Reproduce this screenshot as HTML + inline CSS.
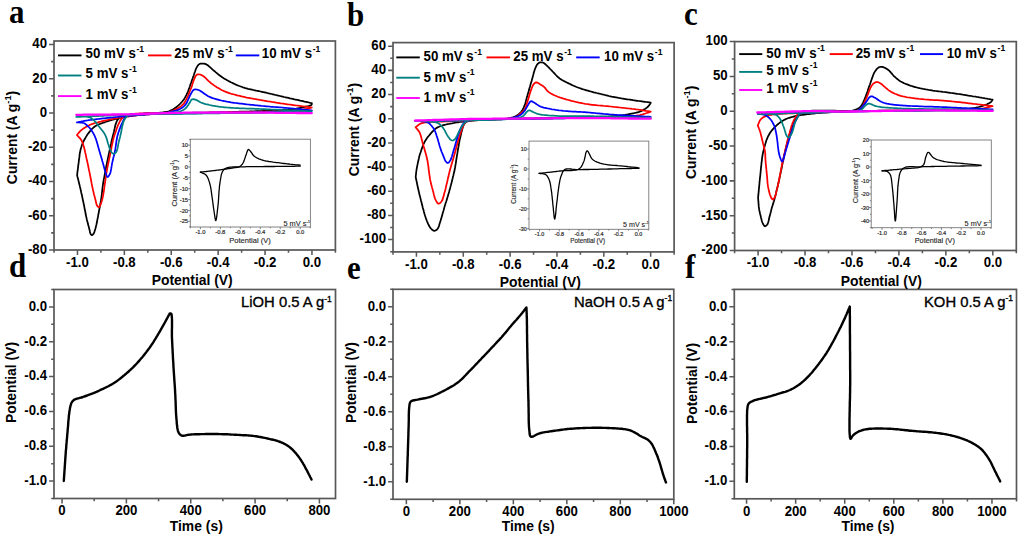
<!DOCTYPE html>
<html><head><meta charset="utf-8"><style>
html,body{margin:0;padding:0;background:#fff;width:1024px;height:538px;overflow:hidden}
svg{display:block}
text{font-family:"Liberation Sans",sans-serif;font-weight:bold;fill:#000}
.ser{font-family:"Liberation Serif",serif;font-weight:bold}
.reg{font-weight:normal}
</style></head><body>
<svg width="1024" height="538" viewBox="0 0 1024 538">
<rect x="54.00" y="41.00" width="281.40" height="209.00" fill="none" stroke="#585858" stroke-width="1.7"/>
<path d="M77.45 250.00v4.9M124.35 250.00v4.9M171.25 250.00v4.9M218.15 250.00v4.9M265.05 250.00v4.9M311.95 250.00v4.9M54.00 250.00v2.8M100.90 250.00v2.8M147.80 250.00v2.8M194.70 250.00v2.8M241.60 250.00v2.8M288.50 250.00v2.8M335.40 250.00v2.8M54.00 250.00h-4.9M54.00 215.75h-4.9M54.00 181.50h-4.9M54.00 147.25h-4.9M54.00 113.00h-4.9M54.00 78.74h-4.9M54.00 44.49h-4.9M54.00 232.87h-2.8M54.00 198.62h-2.8M54.00 164.37h-2.8M54.00 130.12h-2.8M54.00 95.87h-2.8M54.00 61.62h-2.8" stroke="#585858" stroke-width="1.53" fill="none"/>
<text transform="translate(77.45,266.80) scale(1,1.14)" text-anchor="middle" class="tk" font-size="13.2">-1.0</text>
<text transform="translate(124.35,266.80) scale(1,1.14)" text-anchor="middle" class="tk" font-size="13.2">-0.8</text>
<text transform="translate(171.25,266.80) scale(1,1.14)" text-anchor="middle" class="tk" font-size="13.2">-0.6</text>
<text transform="translate(218.15,266.80) scale(1,1.14)" text-anchor="middle" class="tk" font-size="13.2">-0.4</text>
<text transform="translate(265.05,266.80) scale(1,1.14)" text-anchor="middle" class="tk" font-size="13.2">-0.2</text>
<text transform="translate(311.95,266.80) scale(1,1.14)" text-anchor="middle" class="tk" font-size="13.2">0.0</text>
<text transform="translate(47.00,253.85) scale(1,1.14)" text-anchor="end" class="tk" font-size="13.2">-80</text>
<text transform="translate(47.00,219.60) scale(1,1.14)" text-anchor="end" class="tk" font-size="13.2">-60</text>
<text transform="translate(47.00,185.35) scale(1,1.14)" text-anchor="end" class="tk" font-size="13.2">-40</text>
<text transform="translate(47.00,151.10) scale(1,1.14)" text-anchor="end" class="tk" font-size="13.2">-20</text>
<text transform="translate(47.00,116.85) scale(1,1.14)" text-anchor="end" class="tk" font-size="13.2">0</text>
<text transform="translate(47.00,82.60) scale(1,1.14)" text-anchor="end" class="tk" font-size="13.2">20</text>
<text transform="translate(47.00,48.35) scale(1,1.14)" text-anchor="end" class="tk" font-size="13.2">40</text>
<rect x="393.00" y="42.60" width="281.10" height="209.30" fill="none" stroke="#585858" stroke-width="1.7"/>
<path d="M416.43 251.90v4.9M463.27 251.90v4.9M510.12 251.90v4.9M556.98 251.90v4.9M603.83 251.90v4.9M650.67 251.90v4.9M393.00 251.90v2.8M439.85 251.90v2.8M486.70 251.90v2.8M533.55 251.90v2.8M580.40 251.90v2.8M627.25 251.90v2.8M674.10 251.90v2.8M393.00 239.57h-4.9M393.00 215.40h-4.9M393.00 191.23h-4.9M393.00 167.06h-4.9M393.00 142.89h-4.9M393.00 118.72h-4.9M393.00 94.54h-4.9M393.00 70.37h-4.9M393.00 46.20h-4.9M393.00 251.66h-2.8M393.00 227.49h-2.8M393.00 203.32h-2.8M393.00 179.14h-2.8M393.00 154.97h-2.8M393.00 130.80h-2.8M393.00 106.63h-2.8M393.00 82.46h-2.8M393.00 58.29h-2.8" stroke="#585858" stroke-width="1.53" fill="none"/>
<text transform="translate(416.43,268.70) scale(1,1.14)" text-anchor="middle" class="tk" font-size="13.2">-1.0</text>
<text transform="translate(463.27,268.70) scale(1,1.14)" text-anchor="middle" class="tk" font-size="13.2">-0.8</text>
<text transform="translate(510.12,268.70) scale(1,1.14)" text-anchor="middle" class="tk" font-size="13.2">-0.6</text>
<text transform="translate(556.98,268.70) scale(1,1.14)" text-anchor="middle" class="tk" font-size="13.2">-0.4</text>
<text transform="translate(603.83,268.70) scale(1,1.14)" text-anchor="middle" class="tk" font-size="13.2">-0.2</text>
<text transform="translate(650.67,268.70) scale(1,1.14)" text-anchor="middle" class="tk" font-size="13.2">0.0</text>
<text transform="translate(386.00,243.42) scale(1,1.14)" text-anchor="end" class="tk" font-size="13.2">-100</text>
<text transform="translate(386.00,219.25) scale(1,1.14)" text-anchor="end" class="tk" font-size="13.2">-80</text>
<text transform="translate(386.00,195.08) scale(1,1.14)" text-anchor="end" class="tk" font-size="13.2">-60</text>
<text transform="translate(386.00,170.91) scale(1,1.14)" text-anchor="end" class="tk" font-size="13.2">-40</text>
<text transform="translate(386.00,146.74) scale(1,1.14)" text-anchor="end" class="tk" font-size="13.2">-20</text>
<text transform="translate(386.00,122.57) scale(1,1.14)" text-anchor="end" class="tk" font-size="13.2">0</text>
<text transform="translate(386.00,98.40) scale(1,1.14)" text-anchor="end" class="tk" font-size="13.2">20</text>
<text transform="translate(386.00,74.22) scale(1,1.14)" text-anchor="end" class="tk" font-size="13.2">40</text>
<text transform="translate(386.00,50.05) scale(1,1.14)" text-anchor="end" class="tk" font-size="13.2">60</text>
<rect x="734.60" y="41.60" width="281.70" height="208.90" fill="none" stroke="#585858" stroke-width="1.7"/>
<path d="M758.08 250.50v4.9M805.02 250.50v4.9M851.98 250.50v4.9M898.92 250.50v4.9M945.88 250.50v4.9M992.82 250.50v4.9M734.60 250.50v2.8M781.55 250.50v2.8M828.50 250.50v2.8M875.45 250.50v2.8M922.40 250.50v2.8M969.35 250.50v2.8M1016.30 250.50v2.8M734.60 250.50h-4.9M734.60 215.68h-4.9M734.60 180.87h-4.9M734.60 146.05h-4.9M734.60 111.23h-4.9M734.60 76.42h-4.9M734.60 41.60h-4.9M734.60 233.09h-2.8M734.60 198.28h-2.8M734.60 163.46h-2.8M734.60 128.64h-2.8M734.60 93.82h-2.8M734.60 59.01h-2.8" stroke="#585858" stroke-width="1.53" fill="none"/>
<text transform="translate(758.08,267.30) scale(1,1.14)" text-anchor="middle" class="tk" font-size="13.2">-1.0</text>
<text transform="translate(805.02,267.30) scale(1,1.14)" text-anchor="middle" class="tk" font-size="13.2">-0.8</text>
<text transform="translate(851.98,267.30) scale(1,1.14)" text-anchor="middle" class="tk" font-size="13.2">-0.6</text>
<text transform="translate(898.92,267.30) scale(1,1.14)" text-anchor="middle" class="tk" font-size="13.2">-0.4</text>
<text transform="translate(945.88,267.30) scale(1,1.14)" text-anchor="middle" class="tk" font-size="13.2">-0.2</text>
<text transform="translate(992.82,267.30) scale(1,1.14)" text-anchor="middle" class="tk" font-size="13.2">0.0</text>
<text transform="translate(727.60,254.35) scale(1,1.14)" text-anchor="end" class="tk" font-size="13.2">-200</text>
<text transform="translate(727.60,219.54) scale(1,1.14)" text-anchor="end" class="tk" font-size="13.2">-150</text>
<text transform="translate(727.60,184.72) scale(1,1.14)" text-anchor="end" class="tk" font-size="13.2">-100</text>
<text transform="translate(727.60,149.90) scale(1,1.14)" text-anchor="end" class="tk" font-size="13.2">-50</text>
<text transform="translate(727.60,115.09) scale(1,1.14)" text-anchor="end" class="tk" font-size="13.2">0</text>
<text transform="translate(727.60,80.27) scale(1,1.14)" text-anchor="end" class="tk" font-size="13.2">50</text>
<text transform="translate(727.60,45.45) scale(1,1.14)" text-anchor="end" class="tk" font-size="13.2">100</text>
<rect x="54.00" y="289.50" width="281.50" height="209.00" fill="none" stroke="#585858" stroke-width="1.7"/>
<path d="M62.04 498.50v4.9M126.39 498.50v4.9M190.73 498.50v4.9M255.07 498.50v4.9M319.41 498.50v4.9M94.21 498.50v2.8M158.56 498.50v2.8M222.90 498.50v2.8M287.24 498.50v2.8M54.00 481.08h-4.9M54.00 446.25h-4.9M54.00 411.42h-4.9M54.00 376.58h-4.9M54.00 341.75h-4.9M54.00 306.92h-4.9M54.00 498.50h-2.8M54.00 463.67h-2.8M54.00 428.83h-2.8M54.00 394.00h-2.8M54.00 359.17h-2.8M54.00 324.33h-2.8M54.00 289.50h-2.8" stroke="#585858" stroke-width="1.53" fill="none"/>
<text transform="translate(62.04,515.30) scale(1,1.14)" text-anchor="middle" class="tk" font-size="13.2">0</text>
<text transform="translate(126.39,515.30) scale(1,1.14)" text-anchor="middle" class="tk" font-size="13.2">200</text>
<text transform="translate(190.73,515.30) scale(1,1.14)" text-anchor="middle" class="tk" font-size="13.2">400</text>
<text transform="translate(255.07,515.30) scale(1,1.14)" text-anchor="middle" class="tk" font-size="13.2">600</text>
<text transform="translate(319.41,515.30) scale(1,1.14)" text-anchor="middle" class="tk" font-size="13.2">800</text>
<text transform="translate(47.00,484.94) scale(1,1.14)" text-anchor="end" class="tk" font-size="13.2">-1.0</text>
<text transform="translate(47.00,450.10) scale(1,1.14)" text-anchor="end" class="tk" font-size="13.2">-0.8</text>
<text transform="translate(47.00,415.27) scale(1,1.14)" text-anchor="end" class="tk" font-size="13.2">-0.6</text>
<text transform="translate(47.00,380.44) scale(1,1.14)" text-anchor="end" class="tk" font-size="13.2">-0.4</text>
<text transform="translate(47.00,345.60) scale(1,1.14)" text-anchor="end" class="tk" font-size="13.2">-0.2</text>
<text transform="translate(47.00,310.77) scale(1,1.14)" text-anchor="end" class="tk" font-size="13.2">0.0</text>
<rect x="393.00" y="289.30" width="280.80" height="210.00" fill="none" stroke="#585858" stroke-width="1.7"/>
<path d="M406.37 499.30v4.9M459.86 499.30v4.9M513.34 499.30v4.9M566.83 499.30v4.9M620.31 499.30v4.9M673.80 499.30v4.9M433.11 499.30v2.8M486.60 499.30v2.8M540.09 499.30v2.8M593.57 499.30v2.8M647.06 499.30v2.8M393.00 481.80h-4.9M393.00 446.80h-4.9M393.00 411.80h-4.9M393.00 376.80h-4.9M393.00 341.80h-4.9M393.00 306.80h-4.9M393.00 499.30h-2.8M393.00 464.30h-2.8M393.00 429.30h-2.8M393.00 394.30h-2.8M393.00 359.30h-2.8M393.00 324.30h-2.8M393.00 289.30h-2.8" stroke="#585858" stroke-width="1.53" fill="none"/>
<text transform="translate(406.37,516.10) scale(1,1.14)" text-anchor="middle" class="tk" font-size="13.2">0</text>
<text transform="translate(459.86,516.10) scale(1,1.14)" text-anchor="middle" class="tk" font-size="13.2">200</text>
<text transform="translate(513.34,516.10) scale(1,1.14)" text-anchor="middle" class="tk" font-size="13.2">400</text>
<text transform="translate(566.83,516.10) scale(1,1.14)" text-anchor="middle" class="tk" font-size="13.2">600</text>
<text transform="translate(620.31,516.10) scale(1,1.14)" text-anchor="middle" class="tk" font-size="13.2">800</text>
<text transform="translate(673.80,516.10) scale(1,1.14)" text-anchor="middle" class="tk" font-size="13.2">1000</text>
<text transform="translate(386.00,485.65) scale(1,1.14)" text-anchor="end" class="tk" font-size="13.2">-1.0</text>
<text transform="translate(386.00,450.65) scale(1,1.14)" text-anchor="end" class="tk" font-size="13.2">-0.8</text>
<text transform="translate(386.00,415.65) scale(1,1.14)" text-anchor="end" class="tk" font-size="13.2">-0.6</text>
<text transform="translate(386.00,380.65) scale(1,1.14)" text-anchor="end" class="tk" font-size="13.2">-0.4</text>
<text transform="translate(386.00,345.65) scale(1,1.14)" text-anchor="end" class="tk" font-size="13.2">-0.2</text>
<text transform="translate(386.00,310.65) scale(1,1.14)" text-anchor="end" class="tk" font-size="13.2">0.0</text>
<rect x="734.30" y="289.40" width="282.20" height="209.40" fill="none" stroke="#585858" stroke-width="1.7"/>
<path d="M746.57 498.80v4.9M795.65 498.80v4.9M844.73 498.80v4.9M893.80 498.80v4.9M942.88 498.80v4.9M991.96 498.80v4.9M771.11 498.80v2.8M820.19 498.80v2.8M869.27 498.80v2.8M918.34 498.80v2.8M967.42 498.80v2.8M1016.50 498.80v2.8M734.30 481.35h-4.9M734.30 446.45h-4.9M734.30 411.55h-4.9M734.30 376.65h-4.9M734.30 341.75h-4.9M734.30 306.85h-4.9M734.30 498.80h-2.8M734.30 463.90h-2.8M734.30 429.00h-2.8M734.30 394.10h-2.8M734.30 359.20h-2.8M734.30 324.30h-2.8M734.30 289.40h-2.8" stroke="#585858" stroke-width="1.53" fill="none"/>
<text transform="translate(746.57,515.60) scale(1,1.14)" text-anchor="middle" class="tk" font-size="13.2">0</text>
<text transform="translate(795.65,515.60) scale(1,1.14)" text-anchor="middle" class="tk" font-size="13.2">200</text>
<text transform="translate(844.73,515.60) scale(1,1.14)" text-anchor="middle" class="tk" font-size="13.2">400</text>
<text transform="translate(893.80,515.60) scale(1,1.14)" text-anchor="middle" class="tk" font-size="13.2">600</text>
<text transform="translate(942.88,515.60) scale(1,1.14)" text-anchor="middle" class="tk" font-size="13.2">800</text>
<text transform="translate(991.96,515.60) scale(1,1.14)" text-anchor="middle" class="tk" font-size="13.2">1000</text>
<text transform="translate(727.30,485.20) scale(1,1.14)" text-anchor="end" class="tk" font-size="13.2">-1.0</text>
<text transform="translate(727.30,450.30) scale(1,1.14)" text-anchor="end" class="tk" font-size="13.2">-0.8</text>
<text transform="translate(727.30,415.40) scale(1,1.14)" text-anchor="end" class="tk" font-size="13.2">-0.6</text>
<text transform="translate(727.30,380.50) scale(1,1.14)" text-anchor="end" class="tk" font-size="13.2">-0.4</text>
<text transform="translate(727.30,345.60) scale(1,1.14)" text-anchor="end" class="tk" font-size="13.2">-0.2</text>
<text transform="translate(727.30,310.70) scale(1,1.14)" text-anchor="end" class="tk" font-size="13.2">0.0</text>
<text transform="translate(9,23) scale(1,1.12)" class="ser" font-size="31">a</text>
<text transform="translate(347,25.6) scale(1,1.12)" class="ser" font-size="31">b</text>
<text transform="translate(684,25.2) scale(1,1.12)" class="ser" font-size="31">c</text>
<text transform="translate(9,276.7) scale(1,1.12)" class="ser" font-size="31">d</text>
<text transform="translate(347,278.6) scale(1,1.12)" class="ser" font-size="31">e</text>
<text transform="translate(685,278.2) scale(1,1.12)" class="ser" font-size="31">f</text>
<text x="192.20" y="285.2" text-anchor="middle" font-size="13.9">Potential (V)</text>
<text x="540.30" y="286.7" text-anchor="middle" font-size="13.9">Potential (V)</text>
<text x="881.30" y="286.2" text-anchor="middle" font-size="13.9">Potential (V)</text>
<text x="196.30" y="531" text-anchor="middle" font-size="13.9">Time (s)</text>
<text x="528.20" y="531" text-anchor="middle" font-size="13.9">Time (s)</text>
<text x="868.00" y="531" text-anchor="middle" font-size="13.9">Time (s)</text>
<text transform="translate(17,137.5) rotate(-90)" text-anchor="middle" font-size="13.9">Current (A g<tspan dy="-6" font-size="9.2">-1</tspan><tspan dy="6">)</tspan></text>
<text transform="translate(359.2,129.6) rotate(-90)" text-anchor="middle" font-size="13.9">Current (A g<tspan dy="-6" font-size="9.2">-1</tspan><tspan dy="6">)</tspan></text>
<text transform="translate(695.8,132.3) rotate(-90)" text-anchor="middle" font-size="13.9">Current (A g<tspan dy="-6" font-size="9.2">-1</tspan><tspan dy="6">)</tspan></text>
<text transform="translate(16.3,382.5) rotate(-90)" text-anchor="middle" font-size="13.9">Potential (V)</text>
<text transform="translate(356.3,382.6) rotate(-90)" text-anchor="middle" font-size="13.9">Potential (V)</text>
<text transform="translate(697,383.5) rotate(-90)" text-anchor="middle" font-size="13.9">Potential (V)</text>
<path d="M58.00 55.40h23.50" stroke="#000000" stroke-width="1.9"/>
<text transform="translate(85.60,58.20) scale(1,1.09)" font-size="13.3">50 mV s<tspan dx="0.6" dy="-5.8" font-size="8.6">-1</tspan></text>
<path d="M148.00 55.40h23.50" stroke="#ff0000" stroke-width="1.9"/>
<text transform="translate(174.30,58.20) scale(1,1.09)" font-size="13.3">25 mV s<tspan dx="0.6" dy="-5.8" font-size="8.6">-1</tspan></text>
<path d="M235.80 55.40h23.50" stroke="#0000ff" stroke-width="1.9"/>
<text transform="translate(261.80,58.20) scale(1,1.09)" font-size="13.3">10 mV s<tspan dx="0.6" dy="-5.8" font-size="8.6">-1</tspan></text>
<path d="M58.00 75.50h23.50" stroke="#008080" stroke-width="1.9"/>
<text transform="translate(85.60,78.30) scale(1,1.09)" font-size="13.3">5 mV s<tspan dx="0.6" dy="-5.8" font-size="8.6">-1</tspan></text>
<path d="M58.00 96.10h23.50" stroke="#ff00ff" stroke-width="1.9"/>
<text transform="translate(85.60,98.90) scale(1,1.09)" font-size="13.3">1 mV s<tspan dx="0.6" dy="-5.8" font-size="8.6">-1</tspan></text>
<path d="M396.30 57.40h23.50" stroke="#000000" stroke-width="1.9"/>
<text transform="translate(423.50,61.40) scale(1,1.09)" font-size="13.3">50 mV s<tspan dx="0.6" dy="-5.8" font-size="8.6">-1</tspan></text>
<path d="M486.50 57.40h23.50" stroke="#ff0000" stroke-width="1.9"/>
<text transform="translate(513.30,61.40) scale(1,1.09)" font-size="13.3">25 mV s<tspan dx="0.6" dy="-5.8" font-size="8.6">-1</tspan></text>
<path d="M576.20 57.40h23.50" stroke="#0000ff" stroke-width="1.9"/>
<text transform="translate(604.00,61.40) scale(1,1.09)" font-size="13.3">10 mV s<tspan dx="0.6" dy="-5.8" font-size="8.6">-1</tspan></text>
<path d="M396.30 77.70h23.50" stroke="#008080" stroke-width="1.9"/>
<text transform="translate(423.50,81.50) scale(1,1.09)" font-size="13.3">5 mV s<tspan dx="0.6" dy="-5.8" font-size="8.6">-1</tspan></text>
<path d="M396.30 98.00h23.50" stroke="#ff00ff" stroke-width="1.9"/>
<text transform="translate(423.50,101.80) scale(1,1.09)" font-size="13.3">1 mV s<tspan dx="0.6" dy="-5.8" font-size="8.6">-1</tspan></text>
<path d="M739.20 54.10h23.10" stroke="#000000" stroke-width="1.9"/>
<text transform="translate(766.30,57.70) scale(1,1.09)" font-size="13.3">50 mV s<tspan dx="0.6" dy="-5.8" font-size="8.6">-1</tspan></text>
<path d="M829.70 54.10h23.10" stroke="#ff0000" stroke-width="1.9"/>
<text transform="translate(855.70,57.70) scale(1,1.09)" font-size="13.3">25 mV s<tspan dx="0.6" dy="-5.8" font-size="8.6">-1</tspan></text>
<path d="M920.00 54.10h23.10" stroke="#0000ff" stroke-width="1.9"/>
<text transform="translate(946.70,57.70) scale(1,1.09)" font-size="13.3">10 mV s<tspan dx="0.6" dy="-5.8" font-size="8.6">-1</tspan></text>
<path d="M739.20 71.90h23.10" stroke="#008080" stroke-width="1.9"/>
<text transform="translate(766.30,74.70) scale(1,1.09)" font-size="13.3">5 mV s<tspan dx="0.6" dy="-5.8" font-size="8.6">-1</tspan></text>
<path d="M739.20 90.00h23.10" stroke="#ff00ff" stroke-width="1.9"/>
<text transform="translate(766.30,92.80) scale(1,1.09)" font-size="13.3">1 mV s<tspan dx="0.6" dy="-5.8" font-size="8.6">-1</tspan></text>
<path d="M311.8 103.2 311.8 104.0 311.6 104.8 310.9 105.3 309.9 105.6 308.6 106.0 307.2 106.3 305.8 106.6 304.6 106.9 303.4 107.2 302.1 107.5 300.7 107.8 299.3 108.1 297.8 108.4 296.2 108.7 294.6 108.9 293.4 109.1 292.2 109.2 290.9 109.3 289.6 109.4 288.3 109.6 286.9 109.7 285.5 109.8 284.0 109.9 282.5 110.0 281.0 110.0 279.5 110.1 278.0 110.2 276.4 110.3 274.8 110.4 273.2 110.4 271.6 110.5 270.0 110.6 268.7 110.7 267.4 110.7 266.0 110.8 264.6 110.9 263.3 110.9 261.8 111.0 260.4 111.0 259.0 111.1 257.6 111.1 256.1 111.2 254.6 111.3 253.1 111.3 251.6 111.4 250.1 111.4 248.6 111.5 247.1 111.5 245.6 111.6 244.0 111.6 242.5 111.6 240.9 111.7 239.4 111.7 237.8 111.8 236.3 111.8 234.7 111.9 233.1 111.9 231.6 112.0 230.0 112.0 228.4 112.0 226.8 112.1 225.2 112.1 223.6 112.2 221.9 112.2 220.3 112.2 218.6 112.3 216.9 112.3 215.2 112.3 213.5 112.4 211.8 112.4 210.1 112.4 208.4 112.5 206.7 112.5 205.0 112.5 203.3 112.6 201.6 112.6 199.9 112.6 198.2 112.6 196.5 112.7 194.8 112.7 193.1 112.7 191.4 112.8 189.7 112.8 188.1 112.8 186.4 112.9 184.8 112.9 183.2 112.9 181.6 113.0 180.0 113.0 178.4 113.0 176.8 113.1 175.3 113.1 173.7 113.1 172.0 113.2 170.4 113.2 168.8 113.2 167.2 113.2 165.6 113.3 164.0 113.3 162.4 113.3 160.9 113.3 159.3 113.4 157.7 113.4 156.2 113.4 154.7 113.5 153.2 113.5 151.7 113.5 150.3 113.6 148.9 113.6 147.5 113.7 146.2 113.7 144.8 113.8 143.6 113.8 142.3 113.9 141.1 113.9 140.0 114.0 138.3 114.1 136.7 114.2 135.2 114.2 133.7 114.3 132.3 114.4 131.0 114.5 129.7 114.6 128.4 114.8 127.3 115.0 126.1 115.2 125.0 115.5 123.6 115.9 122.3 116.4 121.1 116.9 120.0 117.5 119.0 118.3 118.0 119.3 117.3 120.3 116.7 121.4 116.2 122.7 115.7 124.1 115.3 125.5 114.9 127.1 114.6 128.7 114.2 130.3 113.9 131.9 113.5 133.5 113.1 135.0 112.7 136.4 112.4 137.8 112.0 139.2 111.7 140.6 111.4 142.0 111.1 143.5 110.7 144.9 110.4 146.4 110.1 147.8 109.8 149.3 109.5 150.7 109.2 152.2 108.9 153.6 108.6 155.0 108.3 156.5 108.0 157.9 107.7 159.4 107.4 160.9 107.1 162.3 106.8 163.8 106.5 165.2 106.2 166.7 106.0 168.1 105.7 169.4 105.4 170.8 105.2 172.1 104.9 173.6 104.6 175.1 104.4 176.6 104.1 178.0 103.8 179.4 103.6 180.8 103.3 182.2 103.1 183.6 102.9 185.0 102.7 186.4 102.5 187.7 102.4 189.1 102.2 190.4 102.1 191.8 101.9 193.2 101.8 194.6 101.6 196.0 101.4 197.4 101.2 198.8 101.0 200.2 100.7 201.6 100.5 203.1 100.2 204.5 100.0 206.0 99.7 207.5 99.4 208.9 99.1 210.4 98.9 211.8 98.6 213.2 98.3 214.7 98.1 216.1 97.8 217.6 97.5 219.1 97.2 220.5 97.0 222.0 96.7 223.3 96.4 224.7 96.1 225.9 95.8 227.1 95.4 228.7 94.9 230.2 94.5 231.6 94.0 232.9 93.5 233.8 92.7 234.7 91.9 235.1 91.3 234.8 90.7 234.2 90.3 233.3 90.0 232.0 89.7 230.5 89.3 229.0 89.0 227.8 88.7 226.6 88.3 225.2 87.9 223.8 87.6 222.3 87.2 220.9 86.8 219.4 86.5 217.9 86.2 216.6 85.9 215.2 85.6 213.8 85.4 212.4 85.1 211.0 84.8 209.5 84.5 208.1 84.3 206.7 84.0 205.3 83.7 203.9 83.4 202.4 83.1 201.0 82.8 199.6 82.5 198.2 82.2 196.7 81.9 195.3 81.6 193.9 81.2 192.4 80.9 190.9 80.6 189.5 80.3 188.1 79.9 186.7 79.6 185.2 79.2 183.8 78.9 182.3 78.5 180.8 78.2 179.4 77.8 177.9 77.4 176.5 77.1 175.0 77.3 173.6 77.4 172.2 77.6 170.8 77.8 169.4 78.0 168.0 78.1 166.6 78.3 165.2 78.5 163.9 78.7 162.5 78.8 161.2 79.0 160.0 79.2 158.5 79.4 157.0 79.5 155.6 79.7 154.2 79.9 152.8 80.2 151.4 80.5 150.0 80.8 148.7 81.2 147.5 81.6 146.2 82.0 145.0 82.4 143.8 83.0 142.5 83.5 141.3 84.2 140.0 84.9 138.8 85.6 137.6 86.3 136.4 87.1 135.1 88.0 133.8 88.9 132.6 89.9 131.4 90.8 130.2 91.8 129.1 92.9 128.1 93.9 127.2 95.1 126.3 96.4 125.6 97.7 124.9 99.1 124.3 100.5 123.7 101.9 123.2 103.3 122.7 104.7 122.3 106.0 121.8 107.4 121.3 108.7 120.9 110.0 120.5 111.3 120.1 112.7 119.7 114.0 119.4 115.4 119.0 116.8 118.7 118.2 118.4 119.6 118.0 121.0 117.7 122.4 117.4 123.9 117.1 125.3 116.8 126.8 116.5 128.4 116.3 130.0 116.0 131.3 115.8 132.7 115.6 134.1 115.5 135.5 115.3 136.9 115.2 138.4 115.1 139.9 114.9 141.4 114.8 142.9 114.7 144.4 114.6 145.8 114.4 147.3 114.3 148.7 114.1 150.0 114.0 151.5 113.8 153.0 113.6 154.5 113.5 156.0 113.3 157.4 113.1 158.9 112.9 160.2 112.7 161.6 112.5 162.8 112.4 163.9 112.2 165.0 112.0 166.4 111.8 167.7 111.6 168.8 111.3 170.0 110.9 171.1 110.4 172.2 109.9 173.3 109.2 174.4 108.5 175.4 107.8 176.5 107.0 177.5 106.2 178.5 105.3 179.5 104.4 180.4 103.5 181.3 102.5 182.2 101.5 183.0 100.5 183.8 99.5 184.5 98.4 185.1 97.4 185.7 96.3 186.3 95.2 186.9 94.0 187.4 92.8 187.9 91.6 188.4 90.3 188.9 88.9 189.4 87.6 189.9 86.2 190.3 84.9 190.8 83.6 191.3 82.3 191.7 80.9 192.2 79.6 192.7 78.3 193.1 77.0 193.6 75.7 194.0 74.5 194.4 73.2 194.9 72.0 195.3 70.7 195.7 69.5 196.2 68.4 196.7 67.4 197.5 66.1 198.3 64.9 199.3 64.1 200.3 63.7 201.4 63.5 202.5 63.5 203.8 63.6 205.1 63.9 206.4 64.4 207.4 65.0 208.4 65.8 209.4 66.7 210.5 67.7 211.6 68.7 212.6 69.6 213.7 70.5 214.8 71.4 215.9 72.4 217.1 73.4 218.2 74.3 219.4 75.2 220.5 76.0 221.5 76.7 222.6 77.5 223.7 78.2 224.9 78.9 226.0 79.6 227.2 80.3 228.5 81.0 229.7 81.6 230.8 82.2 232.1 82.8 233.3 83.4 234.6 84.0 235.9 84.6 237.3 85.2 238.6 85.8 240.0 86.3 241.4 86.8 242.8 87.3 244.1 87.7 245.3 88.1 246.6 88.4 248.0 88.8 249.3 89.1 250.7 89.4 252.0 89.7 253.4 90.0 254.8 90.3 256.2 90.6 257.7 90.8 259.1 91.2 260.5 91.5 262.0 91.8 263.3 92.1 264.6 92.4 266.0 92.7 267.3 93.0 268.7 93.4 270.1 93.7 271.5 94.0 272.9 94.3 274.3 94.7 275.7 95.0 277.1 95.3 278.6 95.7 280.0 96.0 281.4 96.3 282.8 96.6 284.2 97.0 285.6 97.3 287.0 97.6 288.5 97.9 289.9 98.3 291.4 98.6 292.8 98.9 294.3 99.3 295.8 99.6 297.2 99.9 298.7 100.2 300.1 100.6 301.6 100.9 303.1 101.2 304.5 101.6 306.0 101.9 307.4 102.2 308.9 102.5 310.3 102.9 311.8 103.2" stroke="#000000" stroke-width="1.75" fill="none" stroke-linejoin="round" stroke-linecap="round" />
<path d="M311.8 107.5 310.4 107.9 309.0 108.3 307.6 108.6 306.0 109.0 304.8 109.2 303.7 109.4 302.5 109.6 301.2 109.8 299.8 110.0 298.4 110.2 296.8 110.3 295.0 110.5 294.0 110.6 292.9 110.7 291.8 110.7 290.6 110.8 289.4 110.9 288.1 110.9 286.8 111.0 285.4 111.1 284.1 111.1 282.6 111.2 281.2 111.2 279.7 111.3 278.2 111.3 276.6 111.4 275.0 111.4 273.4 111.4 271.8 111.5 270.2 111.5 268.5 111.6 266.9 111.6 265.2 111.6 263.5 111.7 261.8 111.7 260.1 111.8 258.4 111.8 256.7 111.8 255.0 111.9 253.4 111.9 251.7 112.0 250.0 112.0 247.9 112.1 245.8 112.1 243.6 112.1 241.3 112.2 239.1 112.2 236.8 112.3 234.5 112.3 232.1 112.4 229.8 112.4 227.4 112.4 225.0 112.5 222.5 112.5 220.1 112.6 217.7 112.6 215.2 112.6 212.8 112.7 210.3 112.7 207.9 112.7 205.5 112.8 203.0 112.8 200.6 112.8 198.2 112.9 195.8 112.9 193.5 112.9 191.2 113.0 188.9 113.0 186.6 113.1 184.4 113.1 182.2 113.2 180.0 113.2 178.2 113.2 176.3 113.3 174.5 113.3 172.6 113.3 170.7 113.3 168.8 113.3 166.8 113.3 164.9 113.3 163.0 113.2 161.1 113.2 159.2 113.2 157.3 113.2 155.4 113.2 153.5 113.2 151.7 113.2 149.9 113.2 148.1 113.2 146.4 113.2 144.7 113.2 143.1 113.3 141.5 113.3 139.9 113.4 138.4 113.5 137.0 113.6 135.7 113.7 134.4 113.8 133.2 113.9 132.0 114.1 131.0 114.3 130.0 114.5 128.3 114.9 126.8 115.3 125.6 115.8 124.4 116.4 123.4 117.1 122.3 118.1 121.5 118.9 120.8 119.9 120.1 121.0 119.5 122.2 118.8 123.5 118.2 124.9 117.6 126.3 117.0 127.8 116.5 129.2 116.0 130.7 115.5 132.2 115.0 133.6 114.5 135.0 114.1 136.4 113.6 137.8 113.3 139.2 112.9 140.6 112.6 142.0 112.3 143.5 112.0 144.9 111.7 146.4 111.4 147.8 111.2 149.3 110.9 150.7 110.6 152.2 110.3 153.6 110.0 155.0 109.7 156.5 109.4 157.9 109.1 159.4 108.8 160.9 108.5 162.3 108.2 163.8 107.9 165.2 107.6 166.6 107.3 168.1 107.1 169.4 106.8 170.8 106.6 172.1 106.3 173.6 106.1 175.1 105.9 176.6 105.7 178.0 105.5 179.4 105.3 180.8 105.1 182.2 104.9 183.6 104.7 185.0 104.5 186.4 104.3 187.8 104.1 189.3 103.9 190.7 103.7 192.1 103.4 193.5 103.2 194.9 103.0 196.2 102.7 197.4 102.4 198.8 102.0 200.2 101.6 201.6 101.2 202.8 100.8 203.9 100.4 204.9 99.7 206.4 99.0 207.2 98.1 206.8 97.2 205.8 96.7 204.9 96.3 203.6 96.0 202.2 95.7 200.8 95.3 199.3 95.0 198.1 94.7 196.9 94.4 195.7 94.0 194.5 93.7 193.1 93.4 191.6 93.0 190.0 92.8 188.9 92.5 187.8 92.3 186.6 92.0 185.3 91.7 183.9 91.5 182.5 91.2 181.0 90.9 179.5 90.6 178.0 90.3 176.4 90.0 174.8 89.7 173.3 89.4 171.7 89.0 170.1 88.7 168.6 88.4 167.0 88.1 165.5 87.8 164.1 87.5 162.7 87.2 161.3 86.9 160.0 86.5 158.5 86.2 156.9 85.9 155.4 85.6 153.9 85.2 152.4 84.9 150.9 84.6 149.5 84.2 148.1 83.9 146.7 83.5 145.5 83.1 144.2 82.7 143.1 82.3 142.0 81.8 141.0 81.1 139.7 80.3 138.7 79.4 137.7 78.6 136.8 77.7 135.9 76.9 135.0 77.7 134.0 78.5 133.1 79.3 132.1 80.2 131.1 81.2 130.2 82.3 129.4 83.4 128.5 84.7 127.7 86.0 126.9 87.4 126.2 88.8 125.5 90.2 124.8 91.4 124.3 92.7 123.8 94.0 123.4 95.3 123.0 96.6 122.6 98.0 122.3 99.4 121.9 100.8 121.6 102.3 121.2 103.6 120.9 104.9 120.6 106.2 120.3 107.6 120.0 109.0 119.7 110.4 119.4 111.8 119.1 113.3 118.8 114.7 118.5 116.2 118.3 117.6 118.0 119.1 117.7 120.5 117.5 121.9 117.3 123.2 117.1 124.6 116.9 125.9 116.7 127.3 116.5 128.7 116.3 130.0 116.1 131.4 116.0 132.8 115.8 134.2 115.6 135.6 115.5 137.1 115.3 138.5 115.2 140.0 115.0 141.4 114.9 142.9 114.7 144.4 114.6 146.0 114.5 147.6 114.4 149.2 114.3 150.8 114.2 152.5 114.1 154.1 114.0 155.7 113.9 157.2 113.8 158.7 113.7 160.1 113.6 161.5 113.5 162.8 113.3 163.9 113.2 165.0 113.0 166.7 112.7 168.1 112.4 169.3 112.0 170.6 111.6 172.0 111.0 173.2 110.5 174.4 110.0 175.7 109.4 177.0 108.7 178.3 108.0 179.6 107.2 180.8 106.4 181.9 105.4 183.0 104.4 183.9 103.4 184.7 102.2 185.4 101.0 186.1 99.7 186.8 98.3 187.5 96.9 188.1 95.5 188.7 94.0 189.3 92.6 189.8 91.3 190.3 90.0 190.8 88.8 191.4 87.4 191.9 86.0 192.3 84.6 192.7 83.3 193.1 82.0 193.5 80.8 194.0 79.7 194.6 78.2 195.2 76.8 195.9 75.6 196.7 74.8 197.7 74.4 198.8 74.4 199.9 74.5 201.2 74.9 202.4 75.6 203.8 76.5 204.7 77.2 205.5 77.9 206.4 78.8 207.4 79.8 208.4 80.8 209.4 81.7 210.5 82.7 211.6 83.6 212.6 84.3 213.7 85.1 214.8 85.9 215.9 86.6 217.1 87.4 218.3 88.1 219.5 88.8 220.7 89.5 222.0 90.2 223.3 90.8 224.6 91.4 225.9 91.9 227.2 92.4 228.5 92.9 229.9 93.3 231.3 93.8 232.8 94.2 234.2 94.5 235.6 94.9 237.1 95.3 238.5 95.6 240.0 95.9 241.4 96.3 242.8 96.6 244.2 96.9 245.7 97.3 247.1 97.6 248.5 97.8 250.0 98.1 251.4 98.4 252.8 98.6 254.2 98.9 255.7 99.1 257.1 99.4 258.6 99.6 260.0 99.9 261.3 100.1 262.7 100.4 264.0 100.6 265.3 100.8 266.6 101.1 267.9 101.3 269.2 101.5 270.6 101.7 272.0 102.0 273.4 102.2 274.8 102.4 276.3 102.7 277.9 102.9 279.2 103.1 280.5 103.3 281.8 103.5 283.2 103.7 284.6 103.9 286.0 104.1 287.4 104.3 288.9 104.5 290.4 104.7 291.9 104.9 293.4 105.1 294.9 105.3 296.5 105.5 298.0 105.7 299.6 105.9 301.1 106.1 302.7 106.3 304.2 106.5 305.8 106.7 307.3 106.9 308.8 107.1 310.3 107.3 311.8 107.5" stroke="#ff0000" stroke-width="1.75" fill="none" stroke-linejoin="round" stroke-linecap="round" />
<path d="M311.8 110.3 310.4 110.5 309.0 110.6 307.7 110.8 306.4 110.9 305.0 111.1 303.5 111.2 301.9 111.4 300.0 111.5 298.9 111.6 297.7 111.6 296.4 111.7 295.1 111.7 293.8 111.8 292.4 111.8 290.9 111.9 289.4 111.9 287.8 111.9 286.2 112.0 284.6 112.0 282.9 112.0 281.2 112.1 279.5 112.1 277.7 112.1 275.9 112.2 274.1 112.2 272.3 112.2 270.4 112.2 268.6 112.3 266.7 112.3 264.8 112.3 263.0 112.3 261.1 112.3 259.2 112.4 257.4 112.4 255.5 112.4 253.6 112.4 251.8 112.5 250.0 112.5 247.8 112.5 245.7 112.6 243.4 112.6 241.2 112.6 238.9 112.7 236.6 112.7 234.2 112.7 231.9 112.8 229.5 112.8 227.1 112.8 224.7 112.9 222.3 112.9 219.9 112.9 217.4 113.0 215.0 113.0 212.6 113.0 210.1 113.1 207.7 113.1 205.3 113.1 202.9 113.2 200.5 113.2 198.1 113.2 195.8 113.3 193.4 113.3 191.1 113.3 188.8 113.4 186.6 113.4 184.3 113.4 182.2 113.5 180.0 113.5 178.2 113.5 176.3 113.6 174.4 113.6 172.5 113.6 170.5 113.6 168.5 113.6 166.5 113.6 164.5 113.6 162.5 113.6 160.5 113.6 158.6 113.6 156.6 113.6 154.6 113.6 152.7 113.6 150.8 113.7 149.0 113.7 147.2 113.7 145.4 113.7 143.7 113.7 142.0 113.8 140.4 113.8 138.9 113.8 137.5 113.9 136.1 114.0 134.9 114.0 133.7 114.1 132.6 114.2 131.6 114.3 130.8 114.4 130.0 114.5 128.5 114.8 127.5 115.1 126.5 115.7 125.7 116.5 125.0 117.4 124.3 118.6 123.7 119.8 123.0 121.2 122.5 122.3 121.9 123.5 121.3 124.8 120.8 126.2 120.2 127.6 119.6 129.1 119.1 130.6 118.6 132.0 118.1 133.5 117.7 135.0 117.3 136.4 117.0 137.8 116.8 139.3 116.5 140.7 116.3 142.2 116.1 143.7 115.9 145.2 115.7 146.6 115.5 148.0 115.3 149.4 115.0 150.8 114.7 152.2 114.4 153.6 114.1 155.0 113.8 156.3 113.4 157.6 113.1 159.0 112.8 160.3 112.5 161.6 112.2 162.9 111.9 164.4 111.7 165.9 111.4 167.4 111.2 168.9 110.9 170.4 110.6 171.8 110.3 173.0 109.9 174.0 109.1 175.4 108.3 176.6 107.5 177.0 106.8 176.3 106.3 174.7 105.7 173.0 105.3 171.8 104.9 170.5 104.6 169.2 104.2 167.7 103.8 166.2 103.4 164.7 103.1 163.5 102.7 162.3 102.3 161.0 102.0 159.7 101.6 158.4 101.2 157.1 100.8 155.7 100.4 154.4 100.0 153.0 99.6 151.7 99.2 150.3 98.8 148.9 98.4 147.5 98.0 146.0 97.6 144.6 97.2 143.2 96.8 141.8 96.4 140.5 96.0 139.2 95.5 138.0 94.9 136.5 94.3 135.1 93.6 133.8 92.9 132.6 92.2 131.4 91.4 130.2 90.6 129.1 89.7 128.0 88.7 127.0 87.8 126.1 86.9 125.2 86.0 124.5 85.0 123.8 84.1 123.2 83.0 122.8 81.9 122.6 80.7 122.5 79.5 122.5 78.2 122.4 76.9 122.4 78.2 122.2 79.5 121.9 80.7 121.7 82.0 121.4 83.2 121.2 84.5 120.9 85.8 120.7 87.2 120.5 88.7 120.2 90.2 120.0 91.4 119.8 92.7 119.7 94.1 119.5 95.4 119.3 96.9 119.1 98.3 119.0 99.8 118.8 101.3 118.6 102.9 118.4 104.4 118.3 106.0 118.1 107.6 117.9 109.1 117.8 110.7 117.6 112.2 117.5 113.7 117.3 115.2 117.2 116.6 117.0 118.0 116.9 119.5 116.7 121.0 116.6 122.5 116.5 124.0 116.3 125.5 116.2 126.9 116.1 128.4 116.0 129.8 115.8 131.2 115.7 132.7 115.6 134.1 115.5 135.6 115.4 137.0 115.2 138.5 115.1 140.0 115.0 141.5 114.9 143.0 114.8 144.5 114.7 146.1 114.5 147.7 114.4 149.3 114.3 151.0 114.2 152.6 114.1 154.2 114.0 155.7 113.9 157.3 113.8 158.7 113.7 160.2 113.5 161.5 113.4 162.8 113.3 163.9 113.1 165.0 113.0 166.7 112.7 168.1 112.5 169.4 112.2 170.6 111.9 172.0 111.5 173.3 111.2 174.7 110.8 176.1 110.5 177.5 110.1 178.8 109.6 180.0 109.0 181.3 108.3 182.4 107.5 183.5 106.6 184.6 105.6 185.6 104.4 186.4 103.3 187.1 102.0 187.7 100.7 188.4 99.2 189.0 97.8 189.6 96.4 190.2 95.1 190.8 94.0 191.6 92.6 192.3 91.4 193.1 90.3 194.0 89.6 195.3 89.3 196.7 89.5 198.0 89.8 199.1 90.2 200.1 90.7 201.2 91.4 202.1 92.0 203.1 92.7 204.1 93.5 205.2 94.3 206.4 95.1 207.7 95.9 209.0 96.6 210.2 97.1 211.4 97.6 212.6 98.1 213.9 98.5 215.3 98.9 216.7 99.3 218.2 99.7 219.7 100.1 221.3 100.5 222.9 100.8 224.6 101.2 225.8 101.4 227.1 101.7 228.4 101.9 229.7 102.1 231.1 102.4 232.5 102.6 234.0 102.8 235.5 103.0 237.0 103.2 238.5 103.4 240.1 103.6 241.7 103.7 243.2 103.9 244.8 104.1 246.4 104.3 248.0 104.5 249.6 104.6 251.1 104.8 252.7 104.9 254.2 105.1 255.7 105.3 257.2 105.4 258.6 105.6 260.0 105.7 261.5 105.9 263.0 106.0 264.5 106.1 266.0 106.3 267.4 106.4 268.9 106.5 270.3 106.7 271.8 106.8 273.2 106.9 274.6 107.0 276.0 107.1 277.4 107.2 278.8 107.3 280.2 107.4 281.6 107.5 283.0 107.6 284.4 107.8 285.8 107.9 287.2 108.0 288.7 108.1 290.2 108.3 291.6 108.4 293.1 108.5 294.5 108.7 296.0 108.8 297.4 108.9 298.9 109.1 300.3 109.2 301.7 109.3 303.2 109.5 304.6 109.6 306.0 109.8 307.5 109.9 308.9 110.0 310.4 110.2 311.8 110.3" stroke="#0000ff" stroke-width="1.75" fill="none" stroke-linejoin="round" stroke-linecap="round" />
<path d="M311.8 111.2 309.7 111.3 307.7 111.3 305.6 111.4 303.6 111.4 301.5 111.5 299.5 111.5 297.5 111.6 295.4 111.6 293.4 111.7 291.3 111.8 289.3 111.8 287.3 111.9 285.2 111.9 283.2 112.0 281.1 112.0 279.1 112.1 277.0 112.2 275.0 112.2 272.9 112.3 270.9 112.3 268.8 112.4 266.8 112.4 264.7 112.5 262.6 112.5 260.5 112.6 258.4 112.6 256.3 112.7 254.2 112.7 252.1 112.8 250.0 112.8 247.7 112.8 245.4 112.9 243.1 112.9 240.8 113.0 238.5 113.0 236.1 113.0 233.7 113.1 231.3 113.1 229.0 113.1 226.6 113.2 224.2 113.2 221.8 113.2 219.3 113.3 216.9 113.3 214.5 113.3 212.1 113.4 209.7 113.4 207.4 113.4 205.0 113.4 202.6 113.5 200.3 113.5 197.9 113.5 195.6 113.6 193.3 113.6 191.0 113.6 188.8 113.7 186.5 113.7 184.3 113.7 182.2 113.8 180.0 113.8 178.2 113.8 176.3 113.9 174.4 113.9 172.4 113.9 170.4 113.9 168.4 113.9 166.4 113.9 164.4 113.9 162.3 113.9 160.3 113.9 158.3 113.9 156.3 114.0 154.3 114.0 152.3 114.0 150.4 114.0 148.5 114.0 146.7 114.0 144.9 114.0 143.2 114.1 141.5 114.1 140.0 114.1 138.5 114.2 137.0 114.2 135.7 114.3 134.5 114.3 133.4 114.4 132.3 114.5 131.4 114.6 130.7 114.7 130.0 114.8 128.7 115.1 127.7 115.7 126.9 116.4 126.2 117.2 125.4 118.2 124.7 119.3 124.0 120.6 123.5 121.7 123.1 123.0 122.7 124.5 122.3 126.0 122.0 127.6 121.7 129.2 121.4 130.8 121.1 132.3 120.8 133.7 120.5 135.0 120.2 136.4 119.9 137.6 119.6 138.8 119.3 140.0 119.0 141.1 118.7 142.4 118.4 143.7 118.1 145.2 117.9 146.7 117.6 148.2 117.2 149.5 116.9 150.7 116.4 151.7 115.7 152.7 114.8 153.5 114.0 153.8 112.8 153.5 111.7 152.6 111.1 151.7 110.5 150.5 110.0 149.1 109.4 147.6 108.9 146.1 108.5 144.8 108.0 143.5 107.6 142.0 107.2 140.6 106.8 139.1 106.3 137.6 105.8 136.3 105.2 135.0 104.5 133.7 103.7 132.5 102.9 131.3 102.0 130.2 101.0 129.0 100.0 127.8 99.2 126.8 98.3 125.7 97.4 124.5 96.5 123.3 95.5 122.1 94.5 121.0 93.4 119.9 92.3 119.0 91.2 118.1 90.0 117.5 88.8 117.1 87.5 116.8 86.2 116.6 84.8 116.6 83.4 116.6 82.0 116.7 80.5 116.8 79.1 116.9 77.7 116.9 76.3 116.9 77.8 116.8 79.3 116.8 80.8 116.7 82.3 116.7 83.8 116.6 85.3 116.5 86.8 116.5 88.3 116.4 89.8 116.3 91.4 116.3 92.9 116.2 94.4 116.2 95.9 116.1 97.4 116.0 99.0 116.0 100.5 115.9 102.0 115.8 103.5 115.8 104.9 115.7 106.4 115.7 107.9 115.6 109.4 115.5 110.8 115.5 112.2 115.4 113.6 115.4 115.1 115.3 116.4 115.3 117.8 115.2 119.2 115.2 120.5 115.1 122.1 115.0 123.7 115.0 125.3 114.9 126.8 114.9 128.4 114.8 129.9 114.8 131.4 114.7 132.9 114.7 134.4 114.6 135.9 114.6 137.4 114.5 138.8 114.5 140.2 114.4 141.7 114.4 143.1 114.3 144.5 114.3 145.9 114.2 147.3 114.1 148.6 114.1 150.0 114.0 151.6 113.9 153.2 113.8 154.8 113.7 156.4 113.6 158.0 113.5 159.6 113.4 161.1 113.3 162.6 113.2 164.1 113.1 165.6 113.0 167.0 112.9 168.4 112.8 169.6 112.7 170.9 112.6 172.0 112.5 173.6 112.4 175.0 112.3 176.4 112.2 177.6 112.0 178.8 111.8 180.0 111.5 181.2 111.0 182.4 110.5 183.6 109.8 184.6 109.1 185.6 108.3 186.5 107.4 187.3 106.3 188.1 105.2 188.8 104.1 189.5 103.1 190.2 102.0 190.7 100.9 191.3 99.9 192.1 99.3 193.3 99.2 194.6 99.4 196.0 99.9 197.1 100.4 198.3 101.0 199.5 101.7 200.9 102.5 202.5 103.1 203.5 103.4 204.7 103.8 205.8 104.1 207.1 104.4 208.4 104.7 209.7 105.0 211.2 105.3 212.6 105.6 214.1 105.8 215.6 106.1 217.2 106.3 218.8 106.6 220.4 106.8 222.0 107.0 223.2 107.1 224.5 107.3 225.8 107.4 227.1 107.5 228.4 107.6 229.8 107.7 231.2 107.8 232.6 107.9 234.0 108.0 235.4 108.1 236.9 108.1 238.3 108.2 239.8 108.3 241.3 108.3 242.8 108.4 244.4 108.4 245.9 108.5 247.5 108.5 249.0 108.6 250.6 108.6 252.1 108.7 253.7 108.7 255.3 108.8 256.8 108.9 258.4 108.9 260.0 109.0 261.6 109.1 263.2 109.2 264.9 109.2 266.5 109.3 268.2 109.4 269.8 109.4 271.5 109.5 273.2 109.6 275.0 109.7 276.7 109.7 278.4 109.8 280.1 109.9 281.9 110.0 283.6 110.0 285.4 110.1 287.2 110.2 288.9 110.3 290.7 110.3 292.5 110.4 294.2 110.5 296.0 110.5 297.8 110.6 299.5 110.7 301.3 110.8 303.1 110.8 304.8 110.9 306.6 111.0 308.3 111.1 310.1 111.1 311.8 111.2" stroke="#008080" stroke-width="1.75" fill="none" stroke-linejoin="round" stroke-linecap="round" />
<path d="M76.3 114.8 78.1 114.8 79.9 114.8 81.7 114.8 83.5 114.7 85.3 114.7 87.1 114.7 88.9 114.7 90.7 114.7 92.5 114.7 94.3 114.7 96.1 114.7 97.9 114.7 99.7 114.6 101.5 114.6 103.3 114.6 105.1 114.6 106.9 114.6 108.7 114.6 110.5 114.6 112.2 114.5 114.0 114.5 115.8 114.5 117.6 114.5 119.4 114.5 121.2 114.4 122.9 114.4 124.7 114.4 126.5 114.4 128.2 114.3 130.0 114.3 131.7 114.3 133.4 114.2 135.0 114.2 136.7 114.1 138.3 114.1 140.0 114.0 141.6 114.0 143.2 113.9 144.9 113.9 146.5 113.8 148.1 113.8 149.7 113.7 151.3 113.7 153.0 113.6 154.6 113.5 156.2 113.5 157.8 113.4 159.5 113.4 161.1 113.3 162.8 113.2 164.4 113.2 166.1 113.1 167.8 113.1 169.5 113.0 171.2 113.0 172.9 112.9 174.7 112.9 176.4 112.9 178.2 112.8 180.0 112.8 182.2 112.8 184.3 112.7 186.5 112.7 188.8 112.7 191.0 112.7 193.3 112.6 195.6 112.6 197.9 112.6 200.3 112.6 202.6 112.6 205.0 112.6 207.4 112.6 209.7 112.6 212.1 112.5 214.5 112.5 216.9 112.5 219.3 112.5 221.7 112.5 224.2 112.5 226.6 112.5 228.9 112.6 231.3 112.6 233.7 112.6 236.1 112.6 238.4 112.6 240.8 112.6 243.1 112.6 245.4 112.6 247.7 112.6 250.0 112.6 252.1 112.6 254.2 112.6 256.3 112.6 258.4 112.6 260.5 112.6 262.6 112.7 264.7 112.7 266.8 112.7 268.8 112.7 270.9 112.7 272.9 112.7 275.0 112.8 277.0 112.8 279.1 112.8 281.1 112.8 283.2 112.8 285.2 112.8 287.3 112.9 289.3 112.9 291.3 112.9 293.4 112.9 295.4 112.9 297.5 113.0 299.5 113.0 301.5 113.0 303.6 113.0 305.6 113.0 307.7 113.1 309.7 113.1 311.8 113.1" stroke="#ff00ff" stroke-width="2.3" fill="none" stroke-linejoin="round" stroke-linecap="round" />
<path d="M650.7 102.6 650.4 103.4 649.9 104.3 649.1 105.4 648.1 106.5 646.9 107.6 646.0 108.3 645.0 109.0 643.9 109.6 642.8 110.3 641.5 110.9 640.3 111.4 639.0 111.9 637.6 112.3 636.2 112.7 634.7 113.0 633.2 113.3 631.7 113.6 630.2 113.9 628.8 114.2 627.4 114.5 626.1 114.7 624.7 115.0 623.3 115.2 621.8 115.4 620.2 115.6 619.0 115.7 617.8 115.8 616.5 116.0 615.2 116.1 613.9 116.1 612.5 116.2 611.1 116.3 609.7 116.4 608.2 116.5 606.6 116.5 605.1 116.6 603.4 116.7 601.7 116.7 600.0 116.8 598.7 116.9 597.3 116.9 595.9 117.0 594.5 117.0 593.0 117.1 591.4 117.1 589.9 117.1 588.3 117.2 586.6 117.2 585.0 117.3 583.3 117.3 581.6 117.4 579.9 117.4 578.1 117.4 576.4 117.5 574.6 117.5 572.9 117.5 571.1 117.6 569.3 117.6 567.5 117.6 565.7 117.7 563.9 117.7 562.1 117.8 560.4 117.8 558.6 117.8 556.8 117.9 555.1 117.9 553.4 117.9 551.7 118.0 550.0 118.0 548.3 118.0 546.6 118.1 544.9 118.1 543.2 118.1 541.5 118.2 539.8 118.2 538.1 118.2 536.3 118.3 534.6 118.3 532.9 118.3 531.1 118.3 529.4 118.4 527.7 118.4 525.9 118.4 524.2 118.4 522.5 118.5 520.8 118.5 519.1 118.5 517.4 118.6 515.7 118.6 514.1 118.6 512.4 118.7 510.8 118.7 509.2 118.7 507.6 118.8 506.0 118.8 504.5 118.9 503.0 118.9 501.5 119.0 500.0 119.0 498.4 119.1 496.7 119.1 495.1 119.1 493.4 119.2 491.8 119.2 490.1 119.2 488.5 119.2 486.9 119.2 485.3 119.3 483.7 119.3 482.2 119.3 480.7 119.4 479.2 119.4 477.8 119.5 476.5 119.6 475.2 119.7 474.0 119.8 472.9 119.9 471.8 120.1 470.9 120.3 470.0 120.5 468.3 121.0 467.0 121.5 465.8 122.2 464.8 123.2 464.1 124.1 463.6 125.2 463.1 126.5 462.6 127.9 462.2 129.4 461.8 130.9 461.4 132.4 461.1 134.0 460.7 135.5 460.4 136.8 460.1 138.1 459.8 139.4 459.5 140.7 459.3 142.1 459.0 143.4 458.8 144.8 458.6 146.2 458.3 147.6 458.1 149.0 457.8 150.4 457.6 151.8 457.4 153.2 457.1 154.6 456.9 156.0 456.7 157.5 456.4 159.0 456.2 160.4 456.0 161.9 455.8 163.4 455.5 164.8 455.3 166.2 455.1 167.5 454.8 168.8 454.6 170.0 454.3 171.6 453.9 173.0 453.6 174.4 453.3 175.8 452.9 177.1 452.6 178.5 452.2 180.0 451.9 181.3 451.6 182.5 451.2 183.9 450.9 185.2 450.5 186.5 450.2 187.9 449.8 189.3 449.4 190.6 449.1 192.0 448.7 193.3 448.3 194.6 447.9 196.0 447.5 197.3 447.1 198.6 446.7 199.9 446.3 201.2 445.8 202.6 445.4 203.9 445.0 205.2 444.6 206.6 444.2 208.0 443.8 209.5 443.4 211.0 442.9 212.5 442.5 214.0 442.1 215.4 441.7 216.9 441.3 218.3 440.9 219.6 440.5 220.9 440.0 222.5 439.5 224.1 439.1 225.6 438.6 227.0 438.0 228.2 437.4 229.1 436.4 230.0 435.3 230.6 434.3 230.8 433.0 230.4 431.8 229.5 430.9 228.5 430.0 227.4 429.2 226.0 428.7 225.0 428.1 223.9 427.6 222.7 427.1 221.5 426.6 220.2 426.1 218.9 425.7 217.7 425.3 216.5 424.9 215.3 424.5 214.0 424.2 212.7 423.8 211.4 423.5 210.0 423.1 208.7 422.7 207.4 422.4 206.0 422.0 204.6 421.7 203.1 421.3 201.7 420.9 200.3 420.6 198.9 420.3 197.6 420.0 196.4 419.6 195.0 419.3 193.7 419.0 192.4 418.7 191.1 418.4 189.7 418.1 188.5 417.8 187.2 417.5 185.8 417.2 184.4 416.9 182.9 416.6 181.4 416.3 180.0 416.0 178.5 415.7 177.1 415.8 175.7 416.0 174.3 416.1 172.9 416.3 171.5 416.5 170.0 416.7 168.6 417.0 167.2 417.3 165.7 417.6 164.2 417.9 162.7 418.2 161.3 418.5 160.0 418.8 158.7 419.0 157.6 419.3 156.5 419.6 155.3 420.0 154.0 420.4 152.9 420.8 151.7 421.2 150.4 421.7 149.0 422.2 147.6 422.7 146.2 423.3 144.8 423.8 143.5 424.4 142.3 425.0 141.2 425.8 139.9 426.6 138.7 427.4 137.6 428.2 136.5 429.1 135.5 430.0 134.4 430.9 133.3 431.9 132.2 432.9 131.1 433.9 130.1 435.0 129.1 436.1 128.3 437.2 127.6 438.4 127.0 439.6 126.5 440.8 126.0 442.1 125.6 443.3 125.2 444.7 124.8 446.1 124.5 447.5 124.2 448.9 124.0 450.5 123.7 451.7 123.5 452.9 123.2 454.1 123.0 455.4 122.7 456.8 122.5 458.1 122.3 459.6 122.0 461.1 121.8 462.7 121.6 463.9 121.5 465.2 121.3 466.5 121.2 467.9 121.1 469.3 120.9 470.8 120.8 472.3 120.7 473.8 120.6 475.4 120.5 477.0 120.3 478.5 120.2 480.1 120.1 481.6 120.0 483.1 119.9 484.6 119.8 486.0 119.8 487.4 119.7 488.7 119.6 490.0 119.5 491.5 119.4 493.1 119.3 494.5 119.3 496.0 119.2 497.4 119.2 498.8 119.1 500.1 119.0 501.4 119.0 502.6 118.9 503.8 118.8 505.0 118.7 506.5 118.5 507.9 118.4 509.2 118.2 510.4 118.0 511.6 117.7 512.8 117.4 514.2 116.9 515.6 116.3 516.8 115.6 518.0 114.8 519.1 113.9 520.1 113.0 521.0 112.0 521.9 110.9 522.7 109.7 523.3 108.5 523.9 107.1 524.5 105.7 524.9 104.5 525.3 103.3 525.7 102.0 526.0 100.6 526.4 99.3 526.7 97.9 527.1 96.6 527.5 95.3 527.8 94.0 528.2 92.7 528.6 91.4 529.0 90.1 529.3 88.8 529.7 87.5 530.1 86.2 530.4 84.9 530.8 83.6 531.2 82.3 531.6 81.0 531.9 79.7 532.3 78.4 532.7 77.1 533.0 75.7 533.4 74.4 533.7 73.0 534.1 71.7 534.5 70.5 534.9 69.3 535.5 67.8 536.1 66.4 536.8 65.1 537.5 64.1 538.3 63.3 539.2 62.7 540.1 62.4 541.2 62.3 542.3 62.4 543.4 62.8 544.5 63.5 545.7 64.5 546.8 65.6 547.9 66.7 548.9 67.6 549.8 68.6 550.7 69.5 551.8 70.6 552.6 71.5 553.5 72.4 554.4 73.4 555.4 74.5 556.4 75.5 557.4 76.6 558.5 77.5 559.6 78.4 560.8 79.2 562.0 80.0 563.3 80.7 564.7 81.4 566.0 82.1 567.3 82.7 568.7 83.4 570.0 84.0 571.2 84.6 572.4 85.2 573.6 85.7 574.8 86.2 576.0 86.8 577.2 87.3 578.6 87.8 580.0 88.3 581.2 88.7 582.4 89.1 583.7 89.5 585.1 89.9 586.5 90.3 587.9 90.7 589.3 91.1 590.8 91.5 592.2 91.9 593.7 92.3 595.2 92.6 596.6 93.0 598.1 93.3 599.5 93.7 600.9 94.0 602.2 94.4 603.6 94.7 604.9 95.0 606.3 95.3 607.6 95.6 608.9 96.0 610.3 96.3 611.7 96.6 613.1 96.8 614.5 97.1 616.0 97.4 617.5 97.7 619.0 98.0 620.3 98.2 621.6 98.5 622.9 98.7 624.3 98.9 625.7 99.1 627.1 99.3 628.5 99.5 630.0 99.7 631.4 99.9 632.9 100.2 634.4 100.4 635.8 100.6 637.3 100.8 638.8 101.0 640.3 101.2 641.8 101.4 643.3 101.6 644.8 101.8 646.3 102.0 647.8 102.2 649.3 102.4 650.7 102.6" stroke="#000000" stroke-width="1.75" fill="none" stroke-linejoin="round" stroke-linecap="round" />
<path d="M650.7 111.6 649.4 112.1 648.1 112.6 646.7 113.0 645.3 113.5 644.0 113.9 642.8 114.3 641.4 114.6 640.0 115.0 638.5 115.3 636.9 115.6 635.7 115.8 634.6 115.9 633.4 116.0 632.1 116.1 630.9 116.1 629.5 116.2 628.2 116.2 626.7 116.3 625.2 116.3 623.6 116.4 621.8 116.4 620.0 116.5 618.4 116.6 616.7 116.6 614.9 116.7 613.0 116.7 611.0 116.8 608.9 116.9 606.7 116.9 604.5 117.0 602.1 117.1 599.8 117.1 597.3 117.2 594.9 117.3 592.4 117.3 589.8 117.4 587.3 117.4 584.7 117.5 582.1 117.6 579.4 117.6 576.8 117.7 574.2 117.8 571.6 117.8 569.1 117.9 566.5 117.9 564.0 118.0 561.5 118.0 559.1 118.1 556.7 118.1 554.4 118.2 552.2 118.3 550.0 118.3 548.2 118.3 546.4 118.4 544.6 118.4 542.8 118.4 541.1 118.5 539.3 118.5 537.5 118.5 535.8 118.6 534.0 118.6 532.3 118.6 530.6 118.6 528.9 118.7 527.2 118.7 525.5 118.7 523.8 118.8 522.1 118.8 520.4 118.8 518.8 118.8 517.2 118.9 515.5 118.9 513.9 118.9 512.3 119.0 510.7 119.0 509.2 119.0 507.6 119.1 506.0 119.1 504.5 119.2 503.0 119.2 501.5 119.2 500.0 119.3 498.4 119.4 496.7 119.4 495.0 119.4 493.3 119.5 491.6 119.5 489.8 119.5 488.1 119.5 486.4 119.6 484.7 119.6 483.1 119.6 481.4 119.7 479.9 119.7 478.3 119.8 476.8 119.8 475.4 119.9 474.1 120.0 472.8 120.1 471.7 120.3 470.6 120.4 469.6 120.6 468.7 120.8 468.0 121.0 466.6 121.6 465.7 122.2 464.8 123.2 464.2 124.1 463.6 125.2 463.0 126.4 462.4 127.8 461.9 129.3 461.3 130.8 460.8 132.4 460.2 134.0 459.7 135.5 459.3 136.8 458.9 138.1 458.4 139.5 458.0 140.9 457.6 142.3 457.3 143.8 456.9 145.3 456.5 146.7 456.1 148.2 455.7 149.7 455.4 151.1 455.0 152.5 454.6 153.9 454.2 155.3 453.8 156.7 453.4 158.1 453.0 159.5 452.6 160.9 452.2 162.3 451.8 163.6 451.4 165.0 451.0 166.3 450.7 167.5 450.3 168.8 450.0 170.0 449.6 171.5 449.2 173.0 448.9 174.4 448.6 175.8 448.3 177.1 447.9 178.5 447.6 180.0 447.3 181.3 447.0 182.7 446.6 184.1 446.3 185.5 446.0 186.9 445.7 188.3 445.3 189.7 445.0 191.0 444.6 192.3 444.2 193.8 443.8 195.2 443.4 196.7 443.0 198.1 442.6 199.4 442.1 200.6 441.5 201.5 440.5 202.6 439.4 203.5 438.4 203.7 437.6 203.2 436.8 202.1 436.1 200.8 435.4 199.4 434.9 198.3 434.5 197.1 434.2 195.8 433.8 194.4 433.5 193.0 433.2 191.6 432.8 190.2 432.5 189.0 432.1 187.8 431.8 186.6 431.5 185.4 431.1 184.1 430.8 182.8 430.5 181.4 430.2 180.0 430.0 178.8 429.8 177.5 429.6 176.1 429.4 174.7 429.2 173.3 429.0 171.8 428.8 170.3 428.6 168.8 428.5 167.3 428.3 165.8 428.0 164.3 427.8 162.8 427.6 161.4 427.3 160.0 427.0 158.5 426.6 157.1 426.3 155.6 425.9 154.2 425.5 152.8 425.1 151.4 424.7 150.0 424.3 148.6 423.9 147.3 423.5 146.0 423.2 144.7 422.8 143.4 422.4 141.9 422.0 140.3 421.6 138.9 421.3 137.4 420.9 136.0 420.5 134.7 420.0 133.4 419.5 132.3 418.8 131.1 418.0 130.1 417.2 129.2 416.4 128.3 415.6 127.3 416.6 126.5 417.5 125.7 418.5 124.9 419.5 124.2 420.6 123.6 421.8 123.2 423.0 122.9 424.3 122.6 425.7 122.5 427.3 122.3 428.5 122.2 429.7 122.1 431.0 122.0 432.3 121.9 433.8 121.9 435.2 121.8 436.8 121.8 438.3 121.7 440.0 121.7 441.6 121.6 443.3 121.6 445.0 121.5 446.2 121.4 447.5 121.4 448.8 121.3 450.2 121.3 451.6 121.2 453.1 121.1 454.5 121.1 456.0 121.0 457.5 121.0 459.0 120.9 460.6 120.8 462.1 120.8 463.7 120.7 465.2 120.6 466.8 120.6 468.3 120.5 469.9 120.4 471.4 120.4 472.9 120.3 474.4 120.2 475.8 120.2 477.3 120.1 478.6 120.1 480.0 120.0 481.6 119.9 483.2 119.9 484.8 119.8 486.4 119.8 488.0 119.7 489.6 119.7 491.2 119.7 492.7 119.6 494.2 119.6 495.7 119.5 497.2 119.5 498.6 119.4 500.0 119.3 501.3 119.3 502.6 119.2 503.8 119.1 505.0 119.0 506.7 118.9 508.3 118.7 509.7 118.6 511.1 118.5 512.5 118.3 513.8 117.9 515.0 117.5 516.3 116.8 517.6 116.0 518.8 115.0 519.9 114.0 521.0 113.0 521.9 112.2 522.9 111.4 523.7 110.6 524.5 109.6 525.0 108.6 525.5 107.5 526.0 106.2 526.5 104.8 526.9 103.3 527.4 101.9 527.8 100.5 528.2 99.2 528.6 97.9 529.0 96.5 529.4 95.1 529.8 93.8 530.2 92.5 530.6 91.3 531.0 90.1 531.5 88.8 532.0 87.5 532.5 86.3 533.0 85.2 533.6 84.3 534.4 83.4 535.3 82.6 536.2 82.3 537.4 82.6 538.8 83.4 540.1 84.3 541.1 84.9 542.1 85.5 543.1 86.1 544.0 86.9 545.0 87.9 545.9 89.1 546.8 90.3 547.9 91.4 548.8 92.1 549.8 92.8 550.9 93.5 552.0 94.1 553.2 94.7 554.4 95.3 555.6 95.8 556.7 96.3 558.0 96.8 559.2 97.2 560.5 97.7 562.0 98.1 563.5 98.6 564.7 98.9 565.9 99.3 567.2 99.7 568.5 100.0 569.9 100.4 571.3 100.8 572.7 101.1 574.2 101.5 575.7 101.9 577.2 102.2 578.8 102.6 580.3 102.9 581.9 103.2 583.5 103.5 585.0 103.8 586.3 104.0 587.7 104.2 589.1 104.4 590.5 104.6 591.9 104.8 593.3 104.9 594.7 105.1 596.2 105.2 597.6 105.4 599.1 105.5 600.6 105.6 602.0 105.7 603.5 105.9 604.9 106.0 606.4 106.1 607.8 106.2 609.3 106.4 610.7 106.5 612.1 106.7 613.5 106.8 615.0 107.0 616.6 107.1 618.1 107.3 619.7 107.5 621.3 107.7 622.8 107.8 624.4 108.0 626.0 108.2 627.5 108.3 629.0 108.5 630.5 108.7 631.9 108.9 633.4 109.0 634.7 109.2 636.1 109.4 637.4 109.5 638.6 109.7 640.1 109.9 641.6 110.1 643.0 110.3 644.3 110.6 645.6 110.8 646.8 111.0 648.1 111.2 649.4 111.4 650.7 111.6" stroke="#ff0000" stroke-width="1.75" fill="none" stroke-linejoin="round" stroke-linecap="round" />
<path d="M650.7 116.8 649.3 116.8 647.8 116.8 646.4 116.9 645.0 116.9 643.7 116.9 642.3 116.9 640.9 117.0 639.6 117.0 638.2 117.0 636.8 117.0 635.4 117.0 634.0 117.1 632.6 117.1 631.2 117.1 629.7 117.1 628.2 117.2 626.6 117.2 625.0 117.2 623.4 117.2 621.7 117.3 620.0 117.3 618.1 117.3 616.1 117.4 614.1 117.4 612.0 117.4 609.9 117.5 607.7 117.5 605.5 117.5 603.2 117.6 600.9 117.6 598.6 117.7 596.2 117.7 593.8 117.7 591.4 117.8 588.9 117.8 586.4 117.9 584.0 117.9 581.5 118.0 579.0 118.0 576.5 118.0 574.0 118.1 571.5 118.1 569.0 118.2 566.6 118.2 564.1 118.3 561.7 118.3 559.3 118.3 556.9 118.4 554.6 118.4 552.3 118.5 550.0 118.5 547.9 118.5 545.8 118.6 543.7 118.6 541.5 118.6 539.3 118.7 537.1 118.7 535.0 118.7 532.8 118.8 530.6 118.8 528.4 118.8 526.2 118.9 524.0 118.9 521.8 118.9 519.7 119.0 517.5 119.0 515.4 119.0 513.3 119.1 511.3 119.1 509.2 119.1 507.2 119.2 505.3 119.2 503.4 119.2 501.5 119.3 499.7 119.3 497.9 119.3 496.2 119.4 494.6 119.4 493.0 119.4 491.5 119.5 490.0 119.5 488.2 119.5 486.6 119.5 485.0 119.5 483.4 119.5 481.9 119.5 480.5 119.5 479.1 119.5 477.8 119.6 476.6 119.6 475.4 119.6 474.2 119.7 473.1 119.8 472.0 120.0 470.6 120.2 469.2 120.5 468.0 120.8 466.8 121.1 465.8 121.6 464.8 122.2 463.8 123.1 462.9 124.3 462.1 125.5 461.4 126.9 460.7 128.3 460.2 129.4 459.7 130.6 459.2 131.9 458.8 133.1 458.4 134.5 457.9 135.8 457.5 137.2 457.1 138.5 456.7 139.8 456.3 141.2 455.9 142.6 455.5 144.0 455.1 145.4 454.7 146.8 454.3 148.2 453.9 149.5 453.5 150.8 453.1 152.2 452.7 153.7 452.3 155.1 451.9 156.5 451.4 157.8 451.0 159.0 450.5 160.0 449.7 161.4 448.8 162.5 447.9 163.0 446.9 162.6 445.9 161.5 445.3 160.7 444.8 159.6 444.3 158.4 443.8 157.2 443.3 155.9 442.8 154.6 442.3 153.3 441.7 152.0 441.2 150.6 440.7 149.1 440.2 147.7 439.8 146.5 439.4 145.2 439.1 143.9 438.7 142.6 438.3 141.3 438.0 140.0 437.6 138.7 437.2 137.5 436.7 136.0 436.3 134.6 435.8 133.2 435.3 131.8 434.7 130.5 434.1 129.3 433.4 128.1 432.5 127.0 431.7 125.9 430.8 125.0 430.0 124.2 429.2 123.4 428.4 122.8 427.3 122.3 426.3 122.0 425.0 121.7 423.5 121.5 422.0 121.4 420.4 121.2 418.7 121.1 417.1 121.0 415.6 120.8 417.0 120.8 418.4 120.8 419.8 120.8 421.2 120.8 422.5 120.8 423.9 120.8 425.2 120.8 426.6 120.8 427.9 120.8 429.3 120.9 430.7 120.9 432.2 120.9 433.7 120.9 435.2 120.8 436.7 120.8 438.3 120.8 440.0 120.8 441.4 120.8 442.9 120.8 444.4 120.7 446.0 120.7 447.6 120.7 449.2 120.6 450.9 120.6 452.6 120.6 454.4 120.5 456.2 120.5 458.0 120.5 459.8 120.4 461.6 120.4 463.5 120.3 465.3 120.3 467.1 120.2 469.0 120.2 470.8 120.1 472.6 120.1 474.3 120.0 476.1 120.0 477.8 119.9 479.5 119.9 481.2 119.8 482.8 119.8 484.3 119.7 485.8 119.7 487.3 119.6 488.7 119.5 490.0 119.5 491.7 119.4 493.4 119.4 495.0 119.4 496.6 119.4 498.1 119.3 499.6 119.3 501.0 119.3 502.4 119.3 503.7 119.2 505.0 119.1 506.3 119.0 507.6 118.9 508.8 118.7 510.0 118.5 511.5 118.2 513.1 117.8 514.5 117.4 515.9 116.9 517.2 116.5 518.5 115.9 519.6 115.4 520.6 114.8 521.8 113.9 522.8 113.0 523.6 112.0 524.5 110.9 525.2 109.9 525.9 108.8 526.5 107.6 527.2 106.5 527.8 105.4 528.4 104.4 529.2 103.0 530.1 101.8 531.0 101.2 532.2 101.4 533.5 102.2 534.9 103.1 535.9 103.7 536.8 104.4 537.8 105.1 538.9 105.8 540.1 106.4 541.2 106.8 542.4 107.2 543.6 107.6 545.0 107.9 546.3 108.2 547.7 108.5 549.1 108.7 550.5 109.0 551.9 109.3 553.2 109.5 554.6 109.7 556.0 110.0 557.4 110.2 558.9 110.4 560.4 110.5 561.9 110.7 563.5 110.9 564.8 111.0 566.1 111.1 567.4 111.2 568.8 111.3 570.2 111.4 571.6 111.5 573.0 111.5 574.5 111.6 575.9 111.7 577.4 111.8 578.9 111.8 580.4 111.9 581.9 112.0 583.5 112.1 585.0 112.2 586.3 112.3 587.7 112.4 589.0 112.5 590.4 112.6 591.8 112.8 593.1 112.9 594.5 113.0 595.9 113.2 597.3 113.3 598.8 113.4 600.2 113.6 601.6 113.7 603.1 113.8 604.5 114.0 606.0 114.1 607.5 114.2 609.0 114.3 610.5 114.5 612.0 114.6 613.5 114.7 614.9 114.8 616.3 114.9 617.7 115.0 619.2 115.1 620.6 115.2 622.1 115.3 623.6 115.3 625.0 115.4 626.5 115.5 628.0 115.6 629.5 115.7 631.0 115.8 632.5 115.8 634.1 115.9 635.6 116.0 637.1 116.1 638.6 116.2 640.1 116.2 641.7 116.3 643.2 116.4 644.7 116.5 646.2 116.6 647.7 116.6 649.2 116.7 650.7 116.8" stroke="#0000ff" stroke-width="1.75" fill="none" stroke-linejoin="round" stroke-linecap="round" />
<path d="M650.7 117.7 647.7 117.7 644.6 117.7 641.6 117.8 638.5 117.8 635.4 117.8 632.4 117.8 629.3 117.8 626.2 117.8 623.1 117.9 620.0 117.9 616.9 117.9 613.9 117.9 610.8 117.9 607.7 117.9 604.6 117.9 601.5 118.0 598.5 118.0 595.4 118.0 592.4 118.0 589.4 118.0 586.3 118.1 583.3 118.1 580.4 118.1 577.4 118.1 574.4 118.1 571.5 118.2 568.6 118.2 565.7 118.2 562.8 118.3 560.0 118.3 557.5 118.3 555.0 118.4 552.4 118.4 549.9 118.4 547.3 118.5 544.7 118.5 542.2 118.6 539.6 118.6 537.0 118.6 534.4 118.7 531.9 118.7 529.3 118.8 526.8 118.8 524.3 118.9 521.8 118.9 519.3 119.0 516.9 119.0 514.5 119.0 512.2 119.1 509.9 119.1 507.6 119.2 505.4 119.2 503.2 119.3 501.1 119.3 499.1 119.4 497.1 119.4 495.2 119.5 493.4 119.5 491.7 119.6 490.0 119.6 488.2 119.6 486.4 119.7 484.6 119.7 482.9 119.7 481.3 119.8 479.7 119.8 478.2 119.8 476.7 119.9 475.4 119.9 474.1 120.0 472.9 120.0 471.8 120.1 470.9 120.2 470.0 120.3 468.7 120.5 467.8 120.7 466.8 121.1 465.7 121.8 464.7 122.8 463.7 124.0 462.7 125.2 462.0 126.3 461.3 127.4 460.6 128.7 459.9 129.9 459.2 131.2 458.6 132.4 457.9 133.8 457.2 135.3 456.5 136.7 455.8 138.0 455.1 139.0 454.2 139.8 453.4 140.3 452.5 140.5 451.5 140.3 450.5 139.6 449.7 138.8 449.0 137.8 448.2 136.7 447.4 135.5 446.7 134.4 446.1 133.2 445.4 131.9 444.8 130.6 444.1 129.4 443.3 128.3 442.4 127.1 441.5 126.0 440.5 124.9 439.4 124.0 438.2 123.2 437.0 122.7 435.8 122.3 434.4 122.1 433.0 121.9 431.5 121.8 430.0 121.6 428.8 121.5 427.6 121.4 426.2 121.3 424.9 121.3 423.5 121.2 422.1 121.2 420.6 121.2 419.2 121.2 417.8 121.2 416.4 121.1 415.0 121.1 416.8 121.1 418.7 121.0 420.6 121.0 422.4 121.0 424.3 121.0 426.2 120.9 428.1 120.9 430.0 120.9 431.9 120.9 433.8 120.9 435.7 120.8 437.6 120.8 439.5 120.8 441.4 120.8 443.3 120.7 445.2 120.7 447.0 120.7 448.9 120.7 450.7 120.6 452.6 120.6 454.4 120.6 456.2 120.5 458.0 120.5 459.8 120.5 461.5 120.5 463.3 120.4 465.0 120.4 466.7 120.4 468.4 120.3 470.0 120.3 471.6 120.3 473.2 120.2 474.9 120.2 476.5 120.2 478.1 120.1 479.7 120.1 481.3 120.1 482.9 120.1 484.5 120.0 486.0 120.0 487.5 120.0 489.1 119.9 490.6 119.9 492.0 119.9 493.5 119.8 494.9 119.8 496.3 119.7 497.6 119.7 499.0 119.6 500.2 119.6 501.5 119.5 502.7 119.4 503.9 119.4 505.0 119.3 506.8 119.2 508.4 119.0 510.0 118.9 511.5 118.8 513.0 118.6 514.3 118.4 515.6 118.2 516.9 118.0 518.0 117.8 519.5 117.5 520.9 117.1 522.1 116.7 523.2 116.1 524.1 115.2 525.0 114.2 525.7 113.1 526.5 112.2 527.3 111.4 528.2 110.7 529.1 110.3 530.1 110.4 531.2 111.0 532.4 111.6 533.6 112.2 534.8 112.7 536.0 113.2 537.2 113.8 538.8 114.2 539.8 114.4 540.9 114.6 542.1 114.8 543.4 115.0 544.8 115.1 546.2 115.2 547.7 115.3 549.2 115.5 550.7 115.6 552.3 115.7 553.9 115.7 555.4 115.8 557.0 115.9 558.3 116.0 559.6 116.0 561.0 116.0 562.3 116.1 563.6 116.1 565.0 116.1 566.4 116.1 567.8 116.1 569.2 116.1 570.6 116.1 572.1 116.1 573.6 116.1 575.1 116.1 576.6 116.1 578.2 116.1 579.9 116.1 581.5 116.1 583.2 116.1 585.0 116.1 586.8 116.1 588.6 116.2 590.5 116.2 592.4 116.2 594.4 116.3 596.4 116.3 598.4 116.4 600.5 116.4 602.7 116.5 604.9 116.5 607.1 116.6 609.3 116.6 611.6 116.7 613.8 116.7 616.1 116.8 618.4 116.9 620.8 116.9 623.1 117.0 625.4 117.0 627.8 117.1 630.1 117.2 632.5 117.2 634.8 117.3 637.1 117.4 639.4 117.4 641.7 117.5 644.0 117.5 646.3 117.6 648.5 117.6 650.7 117.7" stroke="#008080" stroke-width="1.75" fill="none" stroke-linejoin="round" stroke-linecap="round" />
<path d="M415.0 120.6 417.0 120.5 419.0 120.5 421.1 120.4 423.2 120.4 425.2 120.3 427.3 120.2 429.4 120.2 431.5 120.1 433.6 120.0 435.8 120.0 437.9 119.9 440.0 119.8 442.1 119.8 444.2 119.7 446.3 119.6 448.4 119.6 450.4 119.5 452.5 119.5 454.5 119.4 456.5 119.3 458.5 119.3 460.5 119.2 462.4 119.2 464.3 119.1 466.2 119.1 468.0 119.0 469.8 119.0 471.6 119.0 473.3 118.9 475.0 118.9 476.6 118.9 478.2 118.8 479.7 118.8 481.1 118.8 482.5 118.8 483.9 118.8 485.2 118.8 486.5 118.8 487.8 118.8 489.1 118.8 490.4 118.8 491.7 118.8 493.0 118.7 494.3 118.7 495.7 118.7 497.1 118.7 498.5 118.7 500.0 118.7 501.6 118.7 503.3 118.7 505.0 118.7 507.1 118.7 509.2 118.7 511.5 118.6 513.8 118.6 516.2 118.6 518.7 118.6 521.2 118.6 523.8 118.5 526.4 118.5 529.1 118.5 531.8 118.4 534.6 118.4 537.4 118.4 540.2 118.4 543.1 118.3 546.0 118.3 548.8 118.3 551.7 118.3 554.6 118.2 557.5 118.2 560.4 118.2 563.2 118.2 566.1 118.2 568.9 118.1 571.7 118.1 574.4 118.1 577.1 118.1 579.8 118.1 582.4 118.1 585.0 118.1 587.3 118.1 589.6 118.1 591.8 118.1 594.1 118.1 596.3 118.1 598.6 118.2 600.8 118.2 603.0 118.2 605.2 118.2 607.4 118.2 609.6 118.2 611.7 118.3 613.9 118.3 616.1 118.3 618.3 118.3 620.4 118.4 622.6 118.4 624.7 118.4 626.9 118.4 629.0 118.5 631.2 118.5 633.3 118.5 635.5 118.5 637.7 118.6 639.8 118.6 642.0 118.6 644.2 118.6 646.3 118.7 648.5 118.7 650.7 118.7" stroke="#ff00ff" stroke-width="2.3" fill="none" stroke-linejoin="round" stroke-linecap="round" />
<path d="M992.6 99.7 992.1 100.6 991.4 101.6 990.6 102.3 989.5 103.0 988.3 103.6 987.0 104.3 985.6 104.9 984.4 105.3 983.1 105.8 981.7 106.2 980.3 106.6 978.8 107.0 977.3 107.3 975.8 107.7 974.4 108.0 973.1 108.2 971.7 108.4 970.5 108.6 969.3 108.7 968.0 108.8 966.5 108.9 964.8 109.0 963.9 109.1 962.9 109.1 961.8 109.2 960.7 109.2 959.5 109.3 958.2 109.3 956.9 109.4 955.6 109.4 954.2 109.4 952.8 109.5 951.3 109.5 949.8 109.6 948.2 109.6 946.6 109.6 945.0 109.7 943.4 109.7 941.8 109.8 940.1 109.8 938.4 109.8 936.7 109.9 935.0 109.9 933.3 109.9 931.6 110.0 929.9 110.0 928.3 110.0 926.6 110.1 924.9 110.1 923.3 110.1 921.6 110.2 920.0 110.2 918.1 110.2 916.3 110.3 914.4 110.3 912.4 110.3 910.5 110.4 908.6 110.4 906.6 110.4 904.6 110.4 902.6 110.5 900.6 110.5 898.6 110.5 896.6 110.5 894.6 110.6 892.6 110.6 890.5 110.6 888.5 110.6 886.5 110.6 884.4 110.7 882.4 110.7 880.3 110.7 878.3 110.7 876.2 110.8 874.2 110.8 872.1 110.8 870.1 110.8 868.1 110.9 866.0 110.9 864.0 110.9 862.0 111.0 860.0 111.0 858.0 111.0 855.8 111.0 853.7 111.0 851.4 111.0 849.1 111.0 846.8 111.0 844.4 110.9 842.0 110.9 839.6 110.8 837.1 110.8 834.7 110.7 832.3 110.7 829.9 110.6 827.5 110.6 825.2 110.6 822.9 110.6 820.6 110.5 818.5 110.6 816.3 110.6 814.3 110.6 812.3 110.7 810.5 110.8 808.7 110.9 807.1 111.0 805.5 111.2 804.1 111.4 802.9 111.6 801.8 111.9 800.8 112.2 800.0 112.5 798.8 113.3 798.1 114.1 797.6 115.1 797.0 116.2 796.4 117.2 795.8 118.2 795.2 119.4 794.6 120.6 794.0 121.9 793.5 123.2 792.9 124.5 792.4 125.7 792.0 127.0 791.5 128.3 791.0 129.6 790.6 131.0 790.2 132.3 789.7 133.8 789.3 135.2 788.9 136.6 788.5 138.0 788.1 139.4 787.7 140.8 787.4 142.3 787.0 143.7 786.6 145.2 786.3 146.7 786.0 148.1 785.6 149.5 785.3 150.9 785.0 152.3 784.7 153.6 784.4 155.1 784.0 156.6 783.7 157.9 783.5 159.3 783.2 160.7 782.8 162.2 782.5 163.8 782.2 165.0 782.0 166.3 781.7 167.8 781.4 169.3 781.0 170.8 780.7 172.4 780.4 174.0 780.0 175.6 779.7 177.1 779.4 178.7 779.1 180.1 778.8 181.5 778.5 182.8 778.2 184.0 778.0 185.0 777.6 186.6 777.3 187.9 777.0 189.2 776.6 190.6 776.3 191.8 776.0 193.1 775.7 194.5 775.3 195.9 775.0 197.3 774.6 198.6 774.3 199.9 773.9 201.2 773.5 202.4 773.2 203.6 772.8 204.8 772.4 206.0 772.0 207.3 771.6 208.6 771.3 209.9 771.0 211.2 770.6 212.6 770.3 214.0 769.9 215.3 769.6 216.6 769.2 218.0 768.9 219.5 768.6 221.0 768.2 222.3 767.8 223.5 767.3 224.5 766.2 225.8 765.0 226.3 764.2 225.7 763.4 224.5 762.7 223.1 762.2 222.0 761.8 220.7 761.5 219.4 761.1 218.0 760.8 216.6 760.5 215.3 760.1 213.9 759.8 212.5 759.5 211.1 759.2 209.7 759.0 208.2 758.8 206.9 758.7 205.7 758.6 204.4 758.5 203.0 758.4 201.7 758.3 200.4 758.2 199.0 758.1 197.7 758.2 196.2 758.4 194.7 758.5 193.2 758.7 191.7 758.8 190.3 758.9 188.8 759.1 187.3 759.2 185.8 759.4 184.3 759.5 182.8 759.6 181.3 759.8 179.8 759.9 178.3 760.1 176.8 760.3 175.3 760.4 173.8 760.6 172.3 760.7 170.7 760.9 169.2 761.0 167.6 761.2 166.0 761.4 164.5 761.5 163.0 761.7 161.5 761.9 160.1 762.0 158.7 762.2 157.4 762.4 156.1 762.6 155.0 762.9 153.4 763.2 152.0 763.5 150.7 763.8 149.5 764.1 148.2 764.5 146.8 764.9 145.5 765.3 144.1 765.7 142.7 766.1 141.2 766.6 139.8 767.2 138.4 767.8 137.0 768.4 135.7 769.1 134.5 769.8 133.3 770.6 132.1 771.4 131.0 772.3 129.9 773.2 128.8 774.1 127.8 775.1 126.8 776.1 125.8 777.1 124.9 778.2 124.0 779.3 123.1 780.4 122.2 781.6 121.4 782.8 120.7 784.0 120.0 785.3 119.4 786.6 118.8 787.9 118.3 789.3 117.8 790.7 117.4 792.1 117.0 793.6 116.6 795.2 116.2 796.4 115.9 797.7 115.7 799.0 115.4 800.4 115.2 801.7 115.0 803.1 114.8 804.6 114.6 806.0 114.4 807.5 114.2 809.0 114.1 810.5 113.9 812.0 113.7 813.5 113.6 815.0 113.4 816.4 113.2 817.9 113.1 819.3 113.0 820.8 112.8 822.4 112.7 823.9 112.5 825.5 112.4 827.0 112.3 828.6 112.2 830.1 112.0 831.6 111.9 833.1 111.8 834.6 111.7 836.0 111.6 837.4 111.5 838.7 111.4 840.0 111.3 841.7 111.2 843.4 111.1 845.0 111.1 846.5 111.1 848.0 111.0 849.5 111.0 850.8 110.9 852.2 110.7 853.4 110.4 855.0 109.9 856.4 109.4 857.7 108.8 859.0 108.0 860.1 107.1 861.0 106.1 861.8 104.9 862.5 103.7 863.2 102.3 863.8 100.8 864.5 99.3 865.0 98.1 865.5 96.9 866.0 95.5 866.5 94.1 867.1 92.7 867.6 91.2 868.0 89.8 868.5 88.3 869.0 86.9 869.5 85.5 870.0 84.2 870.5 82.8 871.0 81.3 871.5 79.8 872.0 78.4 872.5 77.0 873.0 75.6 873.5 74.3 874.0 73.2 874.6 72.1 875.5 70.7 876.4 69.4 877.4 68.4 878.4 67.6 879.6 67.0 880.8 66.8 882.1 66.8 883.3 67.1 884.6 67.7 886.0 68.4 887.4 69.3 888.6 70.2 889.6 71.1 890.5 72.1 891.4 73.2 892.3 74.2 893.2 75.3 894.2 76.3 895.2 77.2 896.2 78.1 897.3 79.0 898.4 79.9 899.5 80.7 900.7 81.4 901.8 82.0 902.9 82.6 904.1 83.2 905.3 83.7 906.5 84.2 907.8 84.6 909.0 85.1 910.3 85.6 911.6 86.0 912.9 86.4 914.2 86.8 915.5 87.2 916.9 87.5 918.3 87.9 919.6 88.2 920.8 88.5 922.1 88.7 923.4 89.0 924.7 89.2 926.1 89.5 927.5 89.7 928.9 90.0 930.4 90.2 931.7 90.4 932.9 90.6 934.3 90.8 935.6 91.0 937.0 91.1 938.5 91.3 939.9 91.5 941.3 91.7 942.8 91.9 944.2 92.0 945.7 92.2 947.1 92.4 948.6 92.6 950.0 92.8 951.4 93.0 952.8 93.2 954.3 93.4 955.7 93.6 957.1 93.8 958.5 94.0 959.9 94.2 961.3 94.4 962.8 94.7 964.2 94.9 965.6 95.1 967.1 95.3 968.5 95.6 970.0 95.8 971.4 96.0 972.8 96.3 974.2 96.5 975.6 96.7 977.0 97.0 978.4 97.2 979.8 97.5 981.2 97.7 982.6 98.0 984.1 98.2 985.5 98.5 986.9 98.7 988.3 99.0 989.8 99.2 991.2 99.5 992.6 99.7" stroke="#000000" stroke-width="1.75" fill="none" stroke-linejoin="round" stroke-linecap="round" />
<path d="M992.6 106.1 991.2 106.4 989.8 106.8 988.4 107.2 987.0 107.5 985.6 107.8 984.5 108.1 983.4 108.3 982.4 108.5 981.2 108.7 979.7 108.9 978.7 109.0 977.7 109.1 976.6 109.2 975.3 109.2 974.1 109.3 972.7 109.3 971.3 109.4 969.8 109.4 968.3 109.5 966.8 109.5 965.2 109.5 963.5 109.6 961.9 109.6 960.2 109.6 958.5 109.6 956.8 109.7 955.1 109.7 953.4 109.7 951.7 109.8 950.0 109.8 948.5 109.8 947.0 109.9 945.5 109.9 944.0 109.9 942.4 109.9 940.8 110.0 939.2 110.0 937.6 110.0 936.0 110.0 934.3 110.1 932.6 110.1 930.9 110.1 929.2 110.1 927.5 110.2 925.8 110.2 924.1 110.2 922.4 110.2 920.6 110.2 918.9 110.3 917.1 110.3 915.4 110.3 913.7 110.3 911.9 110.3 910.2 110.4 908.5 110.4 906.8 110.4 905.1 110.4 903.4 110.5 901.7 110.5 900.0 110.5 898.3 110.5 896.7 110.6 895.0 110.6 893.3 110.6 891.7 110.6 890.0 110.7 888.3 110.7 886.7 110.7 885.0 110.7 883.3 110.8 881.7 110.8 880.0 110.8 878.3 110.8 876.7 110.9 875.0 110.9 873.3 110.9 871.7 110.9 870.0 111.0 868.3 111.0 866.7 111.0 865.0 111.0 863.3 111.1 861.7 111.1 860.0 111.1 858.3 111.2 856.7 111.2 855.0 111.2 853.3 111.2 851.7 111.3 850.0 111.3 848.3 111.3 846.5 111.3 844.7 111.3 842.9 111.3 841.0 111.3 839.0 111.2 837.1 111.2 835.1 111.2 833.1 111.1 831.1 111.1 829.1 111.0 827.1 111.0 825.1 110.9 823.2 110.9 821.2 110.8 819.3 110.8 817.5 110.8 815.6 110.8 813.9 110.8 812.2 110.8 810.6 110.9 809.0 110.9 807.5 111.0 806.1 111.1 804.8 111.3 803.6 111.4 802.5 111.6 801.6 111.8 800.7 112.0 800.0 112.3 798.8 113.0 798.0 113.8 797.5 114.6 796.8 115.6 796.1 116.5 795.5 117.5 794.8 118.6 794.1 119.7 793.5 121.0 792.9 122.3 792.4 123.4 792.0 124.7 791.5 126.0 791.1 127.4 790.7 128.9 790.3 130.3 789.9 131.9 789.5 133.4 789.1 134.9 788.7 136.4 788.3 137.8 787.9 139.2 787.5 140.7 787.2 142.2 786.8 143.7 786.5 145.2 786.1 146.6 785.8 148.1 785.4 149.5 785.1 150.9 784.8 152.3 784.5 153.6 784.1 155.1 783.8 156.6 783.5 157.9 783.2 159.3 782.9 160.7 782.5 162.2 782.2 163.8 781.9 165.0 781.7 166.3 781.4 167.8 781.1 169.3 780.8 170.8 780.5 172.4 780.2 174.0 779.9 175.6 779.6 177.1 779.3 178.7 779.0 180.1 778.7 181.5 778.5 182.8 778.2 184.0 778.0 185.0 777.6 186.6 777.3 188.0 777.0 189.2 776.6 190.6 776.3 192.0 775.9 193.5 775.6 195.0 775.2 196.4 774.7 197.5 773.8 198.8 772.9 199.5 772.2 199.1 771.5 198.3 771.0 197.4 770.5 196.2 770.0 194.8 769.6 193.4 769.2 192.1 768.9 190.8 768.6 189.3 768.3 187.8 768.0 186.4 767.8 185.0 767.6 183.6 767.5 182.3 767.4 181.0 767.3 179.6 767.2 178.0 767.1 176.9 767.0 175.6 766.8 174.3 766.7 172.9 766.6 171.4 766.4 169.9 766.3 168.3 766.1 166.8 766.0 165.3 765.8 163.9 765.7 162.5 765.6 161.2 765.5 160.0 765.4 158.4 765.3 157.0 765.3 155.7 765.3 154.4 765.2 153.1 765.0 151.7 764.8 150.4 764.5 149.1 764.2 147.8 763.9 146.5 763.5 145.1 763.1 143.8 762.8 142.4 762.5 141.0 762.1 139.6 761.8 138.1 761.4 136.6 761.1 135.2 760.7 133.7 760.4 132.4 760.0 131.2 759.6 129.9 759.1 128.8 758.7 127.7 758.2 126.7 757.8 125.6 758.3 124.3 758.8 123.0 759.3 121.7 759.9 120.5 760.6 119.5 761.5 118.6 762.6 117.8 763.7 117.1 765.0 116.5 766.1 116.0 767.2 115.7 768.5 115.3 769.8 115.0 771.3 114.8 772.9 114.5 773.9 114.4 775.0 114.2 776.2 114.1 777.4 114.0 778.7 113.9 780.0 113.8 781.3 113.7 782.7 113.7 784.2 113.6 785.7 113.5 787.2 113.5 788.7 113.4 790.3 113.4 791.9 113.3 793.5 113.3 795.1 113.2 796.7 113.1 798.4 113.1 800.0 113.0 801.5 112.9 803.0 112.9 804.6 112.8 806.2 112.8 807.9 112.7 809.6 112.7 811.4 112.6 813.2 112.6 815.1 112.6 817.0 112.5 818.8 112.5 820.7 112.4 822.6 112.4 824.6 112.4 826.4 112.3 828.3 112.3 830.2 112.2 832.0 112.2 833.8 112.1 835.6 112.1 837.3 112.0 839.0 112.0 840.6 111.9 842.2 111.8 843.7 111.8 845.1 111.7 846.5 111.6 847.7 111.5 848.9 111.4 850.0 111.3 851.9 111.1 853.5 111.1 855.0 111.0 856.4 110.9 857.7 110.6 858.8 110.2 860.0 109.5 860.9 108.7 861.8 107.7 862.5 106.5 863.3 105.2 863.9 103.8 864.6 102.4 865.2 100.9 865.7 99.5 866.3 98.2 866.8 97.0 867.4 95.5 868.0 94.1 868.5 92.6 869.0 91.3 869.5 90.0 870.0 88.8 870.6 87.5 871.3 86.3 872.0 85.2 872.8 84.2 873.9 83.2 875.2 82.4 876.5 82.0 877.7 82.1 878.9 82.5 880.2 83.2 881.3 83.9 882.4 84.8 883.5 85.9 884.7 86.9 885.8 87.9 886.9 88.8 887.9 89.6 889.0 90.4 890.2 91.2 891.4 92.0 892.6 92.6 893.8 93.2 895.0 93.8 896.4 94.3 897.8 94.9 899.2 95.3 900.7 95.8 901.9 96.1 903.2 96.5 904.5 96.7 905.9 97.0 907.2 97.3 908.7 97.5 910.1 97.7 911.6 98.0 913.2 98.2 914.8 98.4 916.5 98.6 917.7 98.7 918.9 98.9 920.2 99.0 921.5 99.1 922.9 99.2 924.2 99.4 925.6 99.5 927.1 99.6 928.5 99.7 930.0 99.8 931.5 99.9 933.0 100.0 934.5 100.0 936.0 100.1 937.6 100.2 939.1 100.3 940.7 100.4 942.2 100.6 943.8 100.7 945.3 100.8 946.9 100.9 948.5 101.1 950.0 101.2 951.4 101.3 952.8 101.5 954.2 101.6 955.6 101.8 957.0 101.9 958.5 102.1 959.9 102.2 961.4 102.4 962.8 102.6 964.3 102.7 965.8 102.9 967.3 103.1 968.8 103.3 970.2 103.4 971.7 103.6 973.2 103.8 974.7 104.0 976.2 104.1 977.7 104.3 979.2 104.5 980.7 104.7 982.2 104.9 983.7 105.1 985.2 105.2 986.7 105.4 988.2 105.6 989.7 105.8 991.1 105.9 992.6 106.1" stroke="#ff0000" stroke-width="1.75" fill="none" stroke-linejoin="round" stroke-linecap="round" />
<path d="M992.6 109.4 991.1 109.4 989.7 109.4 988.2 109.5 986.8 109.5 985.3 109.5 983.8 109.5 982.4 109.5 980.9 109.6 979.5 109.6 978.0 109.6 976.6 109.6 975.1 109.6 973.7 109.7 972.2 109.7 970.8 109.7 969.3 109.7 967.9 109.7 966.4 109.8 964.9 109.8 963.5 109.8 962.0 109.8 960.5 109.8 959.0 109.9 957.5 109.9 956.1 109.9 954.5 109.9 953.0 110.0 951.5 110.0 950.0 110.0 948.4 110.0 946.8 110.0 945.2 110.1 943.5 110.1 941.9 110.1 940.3 110.2 938.6 110.2 937.0 110.2 935.3 110.2 933.6 110.3 932.0 110.3 930.3 110.3 928.6 110.3 926.9 110.4 925.3 110.4 923.6 110.4 921.9 110.5 920.2 110.5 918.5 110.5 916.8 110.5 915.1 110.6 913.4 110.6 911.8 110.6 910.1 110.6 908.4 110.7 906.7 110.7 905.0 110.7 903.3 110.7 901.7 110.8 900.0 110.8 898.3 110.8 896.7 110.8 895.0 110.9 893.3 110.9 891.7 110.9 890.0 110.9 888.3 111.0 886.7 111.0 885.0 111.0 883.3 111.0 881.7 111.0 880.0 111.0 878.3 111.1 876.7 111.1 875.0 111.1 873.3 111.1 871.7 111.1 870.0 111.2 868.3 111.2 866.7 111.2 865.0 111.2 863.3 111.3 861.7 111.3 860.0 111.3 858.3 111.3 856.7 111.4 855.0 111.4 853.3 111.4 851.7 111.5 850.0 111.5 848.3 111.5 846.5 111.5 844.7 111.6 842.8 111.5 840.9 111.5 838.9 111.5 836.9 111.5 834.8 111.5 832.8 111.4 830.7 111.4 828.7 111.4 826.6 111.3 824.6 111.3 822.6 111.3 820.6 111.3 818.7 111.3 816.8 111.3 814.9 111.3 813.1 111.3 811.4 111.4 809.8 111.4 808.3 111.5 806.8 111.6 805.5 111.8 804.3 111.9 803.1 112.1 802.1 112.3 801.3 112.5 800.6 112.7 800.0 113.0 799.2 113.7 798.9 114.6 798.5 115.6 798.0 116.6 797.4 117.7 796.7 118.9 796.0 120.3 795.3 121.6 794.6 123.1 794.0 124.5 793.5 125.7 793.1 127.0 792.6 128.3 792.2 129.6 791.8 130.9 791.4 132.3 790.9 133.7 790.5 135.1 790.1 136.4 789.7 137.8 789.3 139.2 788.8 140.6 788.4 142.1 787.9 143.6 787.5 145.0 787.1 146.5 786.6 147.9 786.2 149.2 785.9 150.5 785.5 151.7 785.0 153.3 784.6 154.7 784.3 156.1 783.9 157.4 783.5 158.5 783.1 159.8 782.7 161.0 782.2 161.5 781.6 161.0 781.0 159.8 780.5 158.5 780.1 157.4 779.7 156.3 779.4 155.1 779.0 153.6 778.8 152.5 778.6 151.3 778.4 150.0 778.2 148.5 778.0 147.0 777.8 145.4 777.7 143.8 777.5 142.2 777.3 140.6 777.1 139.0 776.9 137.6 776.7 136.2 776.5 135.0 776.2 133.4 775.9 131.9 775.6 130.5 775.3 129.1 775.0 127.8 774.5 126.5 774.0 125.2 773.4 124.0 772.8 122.8 772.1 121.6 771.4 120.5 770.6 119.5 769.6 118.4 768.6 117.4 767.4 116.5 766.2 115.6 765.0 115.0 763.7 114.6 762.2 114.3 760.8 114.2 759.3 114.1 757.8 113.9 759.3 113.9 760.7 113.8 762.1 113.8 763.6 113.7 765.0 113.7 766.5 113.7 767.9 113.6 769.3 113.6 770.8 113.6 772.2 113.5 773.6 113.5 775.1 113.4 776.5 113.4 778.0 113.4 779.4 113.3 780.8 113.3 782.3 113.3 783.7 113.2 785.2 113.2 786.6 113.1 788.1 113.1 789.6 113.1 791.0 113.0 792.5 113.0 794.0 113.0 795.5 112.9 797.0 112.9 798.5 112.8 800.0 112.8 801.6 112.8 803.3 112.7 805.0 112.7 806.8 112.6 808.6 112.6 810.4 112.6 812.3 112.5 814.1 112.5 816.0 112.5 817.9 112.4 819.8 112.4 821.8 112.4 823.7 112.3 825.5 112.3 827.4 112.2 829.3 112.2 831.1 112.2 832.9 112.1 834.6 112.1 836.4 112.0 838.0 112.0 839.6 111.9 841.2 111.9 842.7 111.8 844.1 111.8 845.4 111.7 846.7 111.7 847.9 111.6 849.0 111.6 850.0 111.5 851.7 111.4 853.2 111.4 854.5 111.4 855.7 111.3 856.8 111.1 858.0 110.6 859.1 110.0 860.1 109.1 861.1 108.1 862.1 107.0 863.1 105.9 864.0 104.7 864.9 103.6 865.7 102.6 866.7 101.3 867.6 99.9 868.4 98.6 869.2 97.5 870.0 96.8 870.9 96.4 871.9 96.4 873.0 96.7 874.3 97.4 875.6 98.1 876.6 98.8 877.6 99.5 878.7 100.3 879.9 101.1 881.2 101.8 882.3 102.2 883.3 102.6 884.5 103.0 885.7 103.3 887.0 103.6 888.3 103.8 889.8 104.1 891.4 104.3 893.2 104.6 894.4 104.8 895.8 104.9 897.2 105.1 898.7 105.2 900.3 105.3 902.0 105.4 903.7 105.6 905.5 105.7 907.4 105.8 909.3 105.9 911.3 106.0 913.3 106.1 915.3 106.1 917.4 106.2 919.5 106.3 921.6 106.4 923.7 106.5 925.8 106.5 928.0 106.6 930.1 106.7 932.2 106.7 934.3 106.8 936.4 106.9 938.5 106.9 940.5 107.0 942.5 107.1 944.5 107.2 946.4 107.2 948.2 107.3 950.0 107.4 951.6 107.5 953.1 107.5 954.7 107.6 956.2 107.7 957.7 107.8 959.2 107.8 960.7 107.9 962.2 108.0 963.7 108.0 965.1 108.1 966.6 108.2 968.1 108.3 969.5 108.3 971.0 108.4 972.4 108.5 973.8 108.5 975.3 108.6 976.7 108.7 978.1 108.7 979.6 108.8 981.0 108.9 982.5 108.9 983.9 109.0 985.3 109.1 986.8 109.1 988.2 109.2 989.7 109.3 991.1 109.3 992.6 109.4" stroke="#0000ff" stroke-width="1.75" fill="none" stroke-linejoin="round" stroke-linecap="round" />
<path d="M992.6 110.3 991.1 110.3 989.7 110.3 988.3 110.3 986.9 110.3 985.5 110.3 984.1 110.4 982.7 110.4 981.3 110.4 980.0 110.4 978.6 110.4 977.2 110.4 975.9 110.4 974.5 110.4 973.1 110.4 971.7 110.4 970.3 110.5 968.9 110.5 967.5 110.5 966.0 110.5 964.5 110.5 963.0 110.5 961.5 110.5 960.0 110.5 958.4 110.5 956.8 110.5 955.2 110.6 953.5 110.6 951.8 110.6 950.0 110.6 947.3 110.6 944.5 110.6 941.5 110.7 938.5 110.7 935.4 110.7 932.1 110.7 928.8 110.8 925.5 110.8 922.0 110.8 918.5 110.8 915.0 110.9 911.4 110.9 907.8 110.9 904.1 110.9 900.5 111.0 896.8 111.0 893.2 111.0 889.5 111.1 885.9 111.1 882.3 111.1 878.8 111.2 875.3 111.2 871.9 111.2 868.5 111.3 865.2 111.3 861.9 111.3 858.8 111.4 855.8 111.4 852.8 111.5 850.0 111.5 848.0 111.5 846.0 111.5 844.0 111.5 841.9 111.5 839.9 111.5 837.8 111.4 835.7 111.4 833.6 111.3 831.5 111.2 829.5 111.2 827.4 111.1 825.4 111.1 823.4 111.0 821.5 111.0 819.5 110.9 817.7 110.9 815.9 110.9 814.1 110.9 812.4 110.9 810.8 110.9 809.3 110.9 807.9 111.0 806.5 111.1 805.2 111.2 804.1 111.3 803.0 111.5 802.1 111.7 801.3 111.9 800.6 112.2 800.0 112.5 799.2 113.4 798.9 114.4 798.5 115.6 797.9 116.7 797.2 118.0 796.5 119.4 795.8 120.8 795.2 122.3 794.7 123.6 794.3 125.0 793.9 126.6 793.5 128.1 793.1 129.6 792.6 131.1 792.2 132.3 791.8 133.4 791.1 134.7 790.5 135.7 789.8 136.5 789.2 137.2 788.5 137.6 787.7 137.1 786.8 136.0 786.3 135.0 785.8 133.8 785.4 132.4 784.9 130.8 784.5 129.3 784.0 127.9 783.5 126.5 783.0 125.2 782.5 123.8 782.0 122.4 781.4 121.2 780.7 120.0 780.0 118.8 779.2 117.7 778.4 116.7 777.4 115.8 776.2 115.0 775.2 114.6 774.1 114.3 772.9 114.1 771.5 114.0 770.1 113.9 768.6 113.9 767.1 113.9 765.5 113.9 763.9 113.9 762.3 114.0 760.8 114.0 759.3 114.0 757.8 113.9 760.9 113.8 764.1 113.7 767.4 113.7 770.8 113.6 774.2 113.5 777.7 113.4 781.3 113.4 784.8 113.3 788.4 113.2 792.0 113.1 795.6 113.1 799.1 113.0 802.7 112.9 806.2 112.8 809.7 112.8 813.2 112.7 816.5 112.6 819.8 112.5 823.0 112.4 826.2 112.4 829.2 112.3 832.1 112.2 834.9 112.1 837.5 112.0 840.0 112.0 842.4 111.9 844.5 111.8 846.6 111.7 848.4 111.6 850.0 111.5 852.0 111.4 853.7 111.4 855.2 111.4 856.5 111.3 857.7 111.2 858.8 110.9 860.0 110.5 861.2 109.8 862.3 108.8 863.3 107.8 864.3 106.7 865.2 105.7 866.0 105.0 867.2 104.1 868.5 103.6 869.4 103.7 870.5 104.0 871.7 104.4 873.0 105.0 874.4 105.6 875.9 106.1 877.4 106.5 878.6 106.7 879.8 106.9 881.0 107.1 882.3 107.3 883.7 107.4 885.1 107.5 886.5 107.6 888.0 107.7 889.5 107.8 891.1 107.9 892.7 108.0 894.4 108.1 896.1 108.2 897.9 108.3 899.3 108.4 900.7 108.4 902.2 108.5 903.7 108.5 905.3 108.6 906.9 108.6 908.5 108.7 910.2 108.7 911.9 108.8 913.7 108.8 915.5 108.8 917.3 108.9 919.1 108.9 920.9 108.9 922.8 108.9 924.6 109.0 926.5 109.0 928.4 109.0 930.3 109.0 932.1 109.0 934.0 109.1 935.9 109.1 937.7 109.1 939.5 109.1 941.3 109.2 943.1 109.2 944.9 109.2 946.6 109.2 948.3 109.3 950.0 109.3 951.5 109.3 953.1 109.4 954.6 109.4 956.1 109.4 957.6 109.5 959.1 109.5 960.6 109.5 962.1 109.6 963.5 109.6 965.0 109.6 966.5 109.7 967.9 109.7 969.4 109.7 970.8 109.8 972.3 109.8 973.7 109.8 975.2 109.9 976.6 109.9 978.1 110.0 979.5 110.0 981.0 110.0 982.4 110.1 983.9 110.1 985.3 110.1 986.8 110.2 988.2 110.2 989.7 110.2 991.1 110.3 992.6 110.3" stroke="#008080" stroke-width="1.75" fill="none" stroke-linejoin="round" stroke-linecap="round" />
<path d="M757.3 112.5 759.2 112.5 761.2 112.4 763.2 112.3 765.2 112.3 767.2 112.2 769.2 112.2 771.3 112.1 773.3 112.1 775.4 112.0 777.4 111.9 779.5 111.9 781.5 111.8 783.6 111.8 785.6 111.7 787.6 111.6 789.7 111.6 791.7 111.5 793.6 111.5 795.6 111.4 797.5 111.4 799.4 111.3 801.3 111.3 803.2 111.2 805.0 111.2 806.8 111.2 808.5 111.2 810.2 111.1 811.8 111.1 813.4 111.1 815.0 111.1 816.7 111.1 818.3 111.1 819.8 111.1 821.3 111.2 822.7 111.2 824.0 111.2 825.3 111.3 826.6 111.3 827.9 111.4 829.2 111.4 830.5 111.4 831.9 111.5 833.4 111.5 834.9 111.5 836.5 111.6 838.2 111.6 840.0 111.6 842.0 111.6 844.0 111.6 846.2 111.6 848.4 111.6 850.8 111.5 853.2 111.5 855.6 111.5 858.2 111.4 860.8 111.4 863.5 111.3 866.2 111.3 868.9 111.2 871.7 111.2 874.6 111.1 877.4 111.1 880.3 111.0 883.2 110.9 886.1 110.9 889.0 110.8 891.9 110.8 894.9 110.7 897.8 110.7 900.7 110.6 903.5 110.6 906.4 110.5 909.2 110.5 912.0 110.5 914.7 110.4 917.4 110.4 920.0 110.4 922.5 110.4 924.9 110.4 927.4 110.4 929.9 110.4 932.3 110.4 934.7 110.4 937.2 110.4 939.6 110.4 942.0 110.4 944.5 110.4 946.9 110.5 949.3 110.5 951.7 110.5 954.1 110.5 956.5 110.5 958.9 110.6 961.3 110.6 963.7 110.6 966.1 110.6 968.5 110.7 970.9 110.7 973.3 110.7 975.7 110.7 978.1 110.8 980.5 110.8 982.9 110.8 985.4 110.8 987.8 110.9 990.2 110.9 992.6 110.9" stroke="#ff00ff" stroke-width="2.3" fill="none" stroke-linejoin="round" stroke-linecap="round" />
<path d="M63.8 481.0 63.9 479.5 64.0 478.1 64.1 476.6 64.2 475.2 64.3 473.7 64.4 472.2 64.5 470.7 64.6 469.3 64.7 467.8 64.8 466.3 64.9 464.9 65.0 463.4 65.1 462.0 65.2 460.5 65.3 459.1 65.4 457.6 65.5 456.2 65.6 454.8 65.7 453.4 65.8 451.9 65.9 450.3 66.1 448.8 66.2 447.3 66.3 445.8 66.4 444.2 66.6 442.7 66.7 441.2 66.8 439.7 67.0 438.3 67.1 436.8 67.2 435.4 67.3 434.0 67.5 432.6 67.6 431.2 67.7 429.9 67.8 428.3 68.0 426.8 68.1 425.3 68.2 423.8 68.3 422.3 68.4 420.9 68.6 419.5 68.7 418.1 68.8 416.8 68.9 415.5 69.1 414.3 69.3 412.6 69.5 411.0 69.8 409.5 70.0 408.0 70.3 406.7 70.6 405.5 71.0 404.2 71.4 403.0 72.0 402.0 72.7 401.1 73.5 400.3 74.5 399.6 75.6 399.1 76.9 398.7 78.3 398.3 79.8 397.9 81.4 397.5 82.9 397.0 84.2 396.5 85.7 396.0 87.1 395.5 88.6 394.9 90.0 394.4 91.4 393.8 92.8 393.3 94.0 392.8 95.3 392.3 96.5 391.8 97.6 391.3 98.8 390.8 100.0 390.2 101.1 389.7 102.3 389.2 103.5 388.6 104.7 388.0 106.0 387.4 107.2 386.8 108.4 386.2 109.6 385.5 110.8 384.9 112.0 384.2 113.2 383.5 114.4 382.8 115.5 382.0 116.7 381.2 117.8 380.4 118.8 379.6 119.9 378.8 120.9 378.0 122.0 377.1 123.0 376.3 124.1 375.4 125.1 374.5 126.2 373.6 127.2 372.7 128.3 371.8 129.3 370.8 130.4 369.9 131.4 368.9 132.5 367.9 133.5 366.9 134.4 365.9 135.4 365.0 136.3 364.0 137.2 363.0 138.2 361.9 139.1 360.9 140.0 359.8 140.9 358.8 141.8 357.7 142.7 356.7 143.5 355.6 144.4 354.6 145.2 353.5 146.1 352.4 146.9 351.3 147.7 350.2 148.6 349.1 149.4 348.0 150.2 346.8 151.0 345.7 151.8 344.5 152.6 343.3 153.4 342.1 154.1 340.8 154.9 339.6 155.7 338.4 156.4 337.1 157.2 335.9 157.9 334.7 158.6 333.5 159.3 332.3 160.0 331.1 160.7 329.9 161.4 328.6 162.1 327.4 162.8 326.2 163.4 325.1 164.1 323.9 164.7 322.8 165.3 321.7 166.0 320.4 166.7 319.2 167.3 318.0 167.9 316.9 168.5 315.7 169.2 314.6 169.8 313.4 170.5 313.4 171.1 313.6 171.4 314.0 171.6 314.7 171.7 315.6 171.8 316.7 171.9 318.0 172.0 319.4 172.0 321.0 172.0 322.6 172.0 324.3 172.0 326.1 172.0 328.0 171.9 329.8 171.9 331.7 171.9 333.5 171.9 335.2 171.9 336.9 172.0 338.5 172.1 339.9 172.1 341.3 172.2 342.7 172.3 344.1 172.3 345.5 172.4 347.0 172.5 348.4 172.6 349.8 172.6 351.3 172.7 352.8 172.8 354.2 172.9 355.7 172.9 357.2 173.0 358.6 173.1 360.1 173.2 361.5 173.3 362.9 173.4 364.4 173.4 365.8 173.5 367.2 173.6 368.6 173.7 370.1 173.8 371.6 173.9 373.1 174.0 374.6 174.1 376.1 174.2 377.6 174.3 379.1 174.4 380.6 174.5 382.1 174.6 383.5 174.7 385.0 174.8 386.4 174.9 387.9 175.0 389.3 175.1 390.8 175.1 392.2 175.2 393.6 175.3 395.0 175.4 396.5 175.4 398.1 175.5 399.6 175.6 401.1 175.6 402.7 175.7 404.2 175.7 405.7 175.8 407.2 175.8 408.6 175.9 410.1 175.9 411.5 176.0 412.9 176.1 414.3 176.2 415.7 176.3 417.0 176.4 418.6 176.6 420.2 176.7 421.9 176.8 423.5 177.0 425.0 177.2 426.5 177.3 427.9 177.6 429.2 177.8 430.3 178.1 431.3 178.6 432.6 179.3 433.7 180.0 434.5 181.1 435.3 182.5 435.8 183.5 435.8 184.7 435.6 185.9 435.3 187.4 434.9 189.0 434.7 190.0 434.6 191.1 434.5 192.3 434.4 193.6 434.4 195.0 434.3 196.4 434.3 197.9 434.2 199.4 434.2 200.9 434.1 202.5 434.1 204.1 434.1 205.7 434.0 207.3 434.0 208.9 434.0 210.5 434.0 212.0 434.0 213.5 434.0 215.0 434.0 216.5 434.0 218.0 434.0 219.5 434.1 221.1 434.1 222.6 434.2 224.2 434.2 225.7 434.3 227.3 434.3 228.8 434.4 230.3 434.5 231.8 434.6 233.3 434.6 234.7 434.7 236.1 434.8 237.4 434.9 238.7 434.9 240.0 435.0 241.6 435.1 243.2 435.2 244.6 435.2 246.1 435.3 247.5 435.4 248.8 435.5 250.2 435.6 251.6 435.7 253.0 435.9 254.4 436.1 255.9 436.3 257.3 436.5 258.8 436.8 260.2 437.0 261.7 437.3 263.1 437.6 264.6 437.9 266.0 438.2 267.5 438.5 268.9 438.8 270.4 439.2 271.9 439.5 273.4 439.8 274.9 440.2 276.3 440.6 277.7 441.0 279.0 441.5 280.4 442.0 281.8 442.6 283.2 443.2 284.5 443.9 285.7 444.5 286.9 445.2 288.1 446.0 289.3 446.9 290.4 447.8 291.5 448.7 292.5 449.7 293.6 450.8 294.6 451.9 295.5 452.8 296.3 453.8 297.1 454.9 298.0 455.9 298.8 457.0 299.6 458.1 300.4 459.2 301.1 460.3 301.9 461.6 302.7 462.8 303.4 464.1 304.2 465.4 304.9 466.7 305.6 468.1 306.3 469.4 307.0 470.6 307.6 471.9 308.3 473.2 308.9 474.5 309.6 475.7 310.2 477.0 310.9 478.3 311.5 479.6" stroke="#000" stroke-width="2.4" fill="none" stroke-linejoin="round" stroke-linecap="round" />
<path d="M406.8 481.7 406.9 480.2 406.9 478.7 407.0 477.2 407.0 475.8 407.1 474.3 407.1 472.8 407.2 471.3 407.2 469.8 407.3 468.3 407.3 466.8 407.4 465.4 407.4 463.9 407.5 462.4 407.5 460.9 407.6 459.4 407.6 457.9 407.7 456.4 407.8 454.9 407.8 453.4 407.8 451.9 407.9 450.4 407.9 448.9 408.0 447.4 408.0 445.9 408.1 444.4 408.1 442.8 408.2 441.3 408.2 439.8 408.3 438.3 408.3 436.7 408.4 435.2 408.4 433.8 408.4 432.3 408.5 430.8 408.5 429.4 408.6 428.0 408.6 426.6 408.7 425.3 408.7 424.0 408.7 422.3 408.8 420.7 408.8 419.1 408.8 417.4 408.8 415.8 408.8 414.3 408.9 412.8 408.9 411.4 409.0 410.0 409.1 408.7 409.2 407.6 409.3 406.5 409.5 405.0 409.7 403.7 410.1 402.5 410.7 401.6 411.7 400.9 413.0 400.5 414.4 400.2 416.0 399.9 417.5 399.6 418.8 399.3 420.2 399.0 421.7 398.8 423.1 398.5 424.6 398.3 426.0 398.0 427.3 397.7 428.7 397.3 430.0 397.0 431.2 396.5 432.5 396.1 434.0 395.5 435.1 395.0 436.3 394.5 437.5 394.0 438.8 393.3 440.1 392.7 441.4 392.0 442.8 391.3 444.1 390.7 445.4 390.0 446.7 389.3 447.9 388.6 449.2 387.9 450.5 387.1 451.8 386.4 453.0 385.7 454.3 384.9 455.5 384.1 456.7 383.3 457.8 382.5 459.0 381.6 460.0 380.7 461.0 379.8 462.0 378.9 463.0 378.0 463.9 377.0 464.8 376.0 465.8 375.0 466.8 373.9 467.8 372.9 468.8 371.8 469.7 370.8 470.7 369.9 471.7 368.9 472.7 367.8 473.7 366.8 474.7 365.7 475.7 364.6 476.7 363.6 477.8 362.5 478.8 361.4 479.8 360.3 480.8 359.3 481.8 358.2 482.8 357.2 483.9 356.1 484.9 355.0 486.0 353.9 487.0 352.8 488.1 351.7 489.1 350.6 490.1 349.5 491.1 348.4 492.1 347.4 493.1 346.3 494.1 345.3 495.0 344.3 496.0 343.2 497.0 342.2 497.9 341.1 498.9 340.1 499.8 339.1 500.7 338.2 501.6 337.2 502.5 336.1 503.4 335.1 504.3 334.0 505.3 332.9 506.2 331.8 507.1 330.7 508.0 329.6 508.9 328.4 509.8 327.3 510.8 326.2 511.7 325.1 512.6 324.0 513.6 322.9 514.5 321.9 515.5 320.8 516.5 319.7 517.4 318.6 518.3 317.6 519.2 316.5 520.1 315.5 521.1 314.3 522.0 313.2 522.9 312.0 523.8 310.9 524.6 309.8 525.5 308.6 526.4 307.5 526.5 308.8 526.5 310.0 526.6 311.2 526.6 312.4 526.7 313.7 526.7 315.1 526.8 316.7 526.8 317.8 526.9 319.0 526.9 320.2 526.9 321.5 526.9 322.8 526.9 324.1 527.0 325.5 527.0 327.0 527.0 328.5 527.0 330.0 527.0 331.6 527.0 333.2 527.1 334.8 527.1 336.4 527.1 338.1 527.1 339.8 527.1 341.5 527.2 343.2 527.2 345.0 527.2 346.6 527.3 348.4 527.3 350.2 527.3 352.0 527.4 353.9 527.4 355.8 527.4 357.8 527.5 359.9 527.5 361.9 527.6 364.0 527.6 366.1 527.7 368.3 527.7 370.4 527.8 372.6 527.8 374.8 527.9 376.9 527.9 379.1 527.9 381.2 528.0 383.3 528.0 385.4 528.1 387.5 528.1 389.6 528.2 391.6 528.2 393.6 528.3 395.5 528.3 397.3 528.4 399.2 528.4 400.9 528.5 402.6 528.5 404.2 528.5 405.9 528.6 407.6 528.6 409.3 528.6 411.0 528.6 412.7 528.7 414.3 528.7 415.9 528.7 417.4 528.7 419.0 528.7 420.4 528.8 421.8 528.8 423.2 528.9 424.5 528.9 425.8 529.0 427.0 529.1 428.1 529.2 429.2 529.3 430.2 529.5 431.9 529.6 433.5 529.8 434.9 530.2 436.0 530.9 436.7 531.7 436.8 532.8 436.6 534.0 436.0 535.3 435.3 536.7 434.5 538.2 433.8 539.6 433.3 540.9 433.0 542.3 432.7 543.7 432.4 545.2 432.1 546.7 431.9 548.2 431.7 549.8 431.4 551.3 431.2 552.8 431.0 554.3 430.8 555.8 430.6 557.2 430.4 558.6 430.2 560.1 430.0 561.5 429.8 563.0 429.6 564.4 429.4 565.9 429.2 567.5 429.0 569.0 428.9 570.4 428.8 571.8 428.7 573.2 428.6 574.6 428.5 576.0 428.4 577.5 428.3 578.9 428.2 580.4 428.1 581.9 428.1 583.4 428.0 584.9 428.0 586.4 427.9 588.0 427.9 589.4 427.9 590.8 427.9 592.3 427.8 593.8 427.8 595.3 427.8 596.8 427.8 598.3 427.8 599.9 427.8 601.4 427.8 602.9 427.9 604.4 427.9 605.9 427.9 607.4 428.0 608.8 428.0 610.2 428.1 611.6 428.1 612.9 428.2 614.4 428.3 616.0 428.4 617.5 428.5 618.9 428.6 620.4 428.7 621.8 428.8 623.2 429.0 624.5 429.1 625.7 429.3 626.9 429.6 628.0 429.8 629.5 430.2 630.8 430.7 632.1 431.2 633.3 431.8 634.5 432.4 635.6 433.0 636.7 433.6 637.8 434.3 638.8 435.0 639.9 435.7 641.0 436.3 642.3 437.0 643.7 437.6 645.0 438.2 646.3 438.8 647.5 439.5 648.6 440.4 649.6 441.3 650.5 442.3 651.4 443.4 652.1 444.5 652.8 445.7 653.4 447.0 654.1 448.4 654.7 449.8 655.3 451.2 655.8 452.4 656.3 453.7 656.9 454.9 657.4 456.2 657.9 457.5 658.3 458.9 658.8 460.2 659.3 461.6 659.7 462.9 660.1 464.2 660.5 465.5 660.9 466.9 661.3 468.3 661.7 469.6 662.1 471.0 662.5 472.3 662.8 473.5 663.2 474.7 663.7 476.1 664.1 477.5 664.6 478.7 665.1 480.0 665.5 481.2 666.0 482.5" stroke="#000" stroke-width="2.4" fill="none" stroke-linejoin="round" stroke-linecap="round" />
<path d="M746.8 481.7 746.8 480.2 746.8 478.8 746.8 477.3 746.9 475.8 746.9 474.4 746.9 472.9 746.9 471.4 746.9 469.9 746.9 468.5 747.0 467.0 747.0 465.5 747.0 464.0 747.0 462.6 747.0 461.1 747.0 459.6 747.1 458.1 747.1 456.7 747.1 455.2 747.1 453.7 747.1 452.3 747.1 450.8 747.1 449.4 747.2 447.9 747.2 446.5 747.2 445.0 747.2 443.6 747.2 442.1 747.2 440.5 747.2 438.9 747.2 437.3 747.2 435.6 747.2 433.9 747.1 432.2 747.1 430.6 747.1 428.9 747.1 427.2 747.0 425.5 747.0 423.9 747.0 422.3 747.0 420.7 747.0 419.2 747.0 417.7 747.0 416.2 747.0 414.9 747.1 413.6 747.1 412.4 747.1 411.2 747.2 410.2 747.3 409.2 747.4 408.4 747.6 406.8 747.8 405.6 748.1 404.6 748.7 403.6 749.6 402.7 750.7 401.9 752.1 401.3 753.6 400.6 754.7 400.2 755.9 399.8 757.2 399.5 758.6 399.1 760.0 398.8 761.5 398.5 763.0 398.1 764.5 397.8 765.9 397.5 767.3 397.1 768.7 396.7 770.2 396.3 771.6 395.9 773.1 395.4 774.5 395.0 775.9 394.6 777.3 394.1 778.7 393.7 780.0 393.3 781.3 392.9 782.6 392.5 783.9 392.1 785.1 391.8 786.4 391.4 787.6 391.0 788.8 390.5 790.0 390.0 791.2 389.4 792.4 388.8 793.6 388.2 794.7 387.5 795.9 386.8 797.0 386.1 798.2 385.3 799.3 384.5 800.4 383.7 801.4 382.8 802.5 382.0 803.5 381.0 804.6 380.1 805.6 379.1 806.6 378.1 807.6 377.1 808.6 376.1 809.6 375.1 810.5 374.0 811.5 373.0 812.4 371.9 813.3 370.8 814.3 369.6 815.2 368.5 816.1 367.3 817.0 366.2 817.9 365.0 818.8 363.9 819.6 362.8 820.5 361.6 821.3 360.5 822.2 359.3 823.0 358.1 823.8 356.9 824.7 355.7 825.5 354.5 826.3 353.3 827.1 352.0 827.8 350.8 828.6 349.6 829.3 348.3 830.1 347.0 830.8 345.7 831.5 344.4 832.2 343.1 833.0 341.8 833.7 340.5 834.4 339.2 835.1 337.9 835.7 336.6 836.4 335.3 837.1 334.0 837.7 332.8 838.4 331.5 839.0 330.3 839.6 329.0 840.2 327.8 840.9 326.6 841.5 325.3 842.1 324.1 842.6 322.9 843.2 321.6 843.8 320.4 844.4 319.1 845.0 317.9 845.5 316.6 846.1 315.3 846.6 314.1 847.1 312.8 847.7 311.5 848.2 310.3 848.7 309.0 849.3 307.8 849.8 306.5 849.8 308.9 849.8 311.3 849.8 313.7 849.9 316.1 849.9 318.5 849.9 320.9 849.9 323.3 849.9 325.7 849.9 328.1 849.9 330.5 849.9 333.0 850.0 335.4 850.0 337.8 850.0 340.2 850.0 342.6 850.0 345.0 850.0 347.4 850.0 349.8 850.1 352.2 850.1 354.6 850.1 357.0 850.1 359.3 850.1 361.7 850.1 364.1 850.1 366.4 850.1 368.8 850.2 371.1 850.2 373.4 850.2 375.7 850.2 378.0 850.2 380.2 850.2 382.4 850.2 384.8 850.1 387.3 850.1 389.8 850.1 392.4 850.0 395.0 850.0 397.6 849.9 400.3 849.8 403.0 849.8 405.6 849.7 408.3 849.7 410.9 849.6 413.5 849.6 416.0 849.5 418.5 849.5 420.9 849.5 423.2 849.5 425.3 849.5 427.4 849.5 429.3 849.5 431.1 849.6 432.8 849.7 434.2 849.8 435.5 849.9 436.6 850.0 437.5 850.2 438.2 850.4 438.6 850.6 438.8 851.2 438.3 851.9 436.9 852.8 435.6 853.8 434.7 854.9 433.8 856.1 433.0 857.3 432.3 858.3 431.7 859.4 431.2 860.5 430.8 861.7 430.4 862.9 430.0 864.2 429.7 865.5 429.4 866.8 429.2 868.2 429.0 869.7 428.8 871.2 428.7 872.4 428.6 873.8 428.6 875.2 428.5 876.6 428.5 878.0 428.5 879.5 428.5 880.9 428.5 882.3 428.5 883.7 428.6 885.0 428.6 886.5 428.6 887.8 428.7 889.2 428.7 890.5 428.8 891.9 428.9 893.3 429.0 894.8 429.1 896.0 429.2 897.3 429.3 898.6 429.4 899.9 429.6 901.2 429.7 902.6 429.9 904.0 430.0 905.5 430.2 906.9 430.3 908.4 430.5 909.9 430.7 911.4 430.8 912.7 430.9 914.1 431.0 915.6 431.1 917.0 431.3 918.5 431.4 920.0 431.5 921.5 431.6 923.1 431.7 924.6 431.8 926.2 431.9 927.7 432.0 929.2 432.2 930.7 432.3 932.1 432.4 933.6 432.6 935.0 432.7 936.3 432.9 937.8 433.1 939.3 433.3 940.7 433.5 942.1 433.7 943.5 433.9 944.8 434.1 946.2 434.3 947.5 434.6 948.9 434.9 950.2 435.1 951.5 435.5 952.9 435.8 954.3 436.2 955.7 436.6 957.2 437.0 958.6 437.4 960.0 437.9 961.5 438.4 962.9 438.8 964.3 439.4 965.6 439.9 967.0 440.4 968.2 441.0 969.5 441.6 970.8 442.2 972.1 442.9 973.3 443.6 974.5 444.2 975.7 445.0 976.8 445.7 978.0 446.5 979.0 447.3 980.1 448.1 981.1 449.0 982.1 449.9 983.0 450.9 983.9 452.0 984.8 453.1 985.6 454.2 986.4 455.3 987.2 456.4 988.0 457.6 988.7 458.7 989.4 459.8 990.1 461.0 990.8 462.3 991.4 463.5 992.0 464.7 992.6 466.0 993.2 467.2 993.8 468.5 994.4 469.8 995.0 471.1 995.7 472.3 996.3 473.6 996.9 474.9 997.6 476.2 998.3 477.5 998.9 478.8 999.6 480.1 1000.2 481.4" stroke="#000" stroke-width="2.4" fill="none" stroke-linejoin="round" stroke-linecap="round" />
<text x="241.1" y="307" class="reg" font-size="14.8" style="stroke:#000;stroke-width:0.35">LiOH 0.5 A g<tspan dy="-5.5" font-size="8.5">-1</tspan></text>
<text x="574.1" y="306.9" class="reg" font-size="14.8" style="stroke:#000;stroke-width:0.35">NaOH 0.5 A g<tspan dy="-5.5" font-size="8.5">-1</tspan></text>
<text x="924" y="306.9" class="reg" font-size="14.8" style="stroke:#000;stroke-width:0.35">KOH 0.5 A g<tspan dy="-5.5" font-size="8.5">-1</tspan></text>
<rect x="190.3" y="139.2" width="120.10" height="87.80" fill="none" stroke="#777" stroke-width="0.9"/>
<path d="M200.40 227.0v2.2M220.36 227.0v2.2M240.32 227.0v2.2M260.28 227.0v2.2M280.24 227.0v2.2M300.20 227.0v2.2M190.42 227.0v1.3M210.38 227.0v1.3M230.34 227.0v1.3M250.30 227.0v1.3M270.26 227.0v1.3M290.22 227.0v1.3M310.18 227.0v1.3M190.3 145.20h-2.2M190.3 156.07h-2.2M190.3 166.94h-2.2M190.3 177.81h-2.2M190.3 188.69h-2.2M190.3 199.56h-2.2M190.3 210.43h-2.2M190.3 221.30h-2.2M190.3 139.76h-1.3M190.3 150.64h-1.3M190.3 161.51h-1.3M190.3 172.38h-1.3M190.3 183.25h-1.3M190.3 194.12h-1.3M190.3 204.99h-1.3M190.3 215.86h-1.3M190.3 226.74h-1.3" stroke="#666" stroke-width="0.8" fill="none"/>
<text x="200.40" y="234.00" text-anchor="middle" class="reg" font-size="5.8" style="fill:#2a2a2a;stroke:#2a2a2a;stroke-width:0.2">-1.0</text>
<text x="220.36" y="234.00" text-anchor="middle" class="reg" font-size="5.8" style="fill:#2a2a2a;stroke:#2a2a2a;stroke-width:0.2">-0.8</text>
<text x="240.32" y="234.00" text-anchor="middle" class="reg" font-size="5.8" style="fill:#2a2a2a;stroke:#2a2a2a;stroke-width:0.2">-0.6</text>
<text x="260.28" y="234.00" text-anchor="middle" class="reg" font-size="5.8" style="fill:#2a2a2a;stroke:#2a2a2a;stroke-width:0.2">-0.4</text>
<text x="280.24" y="234.00" text-anchor="middle" class="reg" font-size="5.8" style="fill:#2a2a2a;stroke:#2a2a2a;stroke-width:0.2">-0.2</text>
<text x="300.20" y="234.00" text-anchor="middle" class="reg" font-size="5.8" style="fill:#2a2a2a;stroke:#2a2a2a;stroke-width:0.2">0.0</text>
<text x="188.10" y="147.29" text-anchor="end" class="reg" font-size="5.8" style="fill:#2a2a2a;stroke:#2a2a2a;stroke-width:0.2">10</text>
<text x="188.10" y="158.16" text-anchor="end" class="reg" font-size="5.8" style="fill:#2a2a2a;stroke:#2a2a2a;stroke-width:0.2">5</text>
<text x="188.10" y="169.03" text-anchor="end" class="reg" font-size="5.8" style="fill:#2a2a2a;stroke:#2a2a2a;stroke-width:0.2">0</text>
<text x="188.10" y="179.90" text-anchor="end" class="reg" font-size="5.8" style="fill:#2a2a2a;stroke:#2a2a2a;stroke-width:0.2">-5</text>
<text x="188.10" y="190.77" text-anchor="end" class="reg" font-size="5.8" style="fill:#2a2a2a;stroke:#2a2a2a;stroke-width:0.2">-10</text>
<text x="188.10" y="201.65" text-anchor="end" class="reg" font-size="5.8" style="fill:#2a2a2a;stroke:#2a2a2a;stroke-width:0.2">-15</text>
<text x="188.10" y="212.52" text-anchor="end" class="reg" font-size="5.8" style="fill:#2a2a2a;stroke:#2a2a2a;stroke-width:0.2">-20</text>
<text x="188.10" y="223.39" text-anchor="end" class="reg" font-size="5.8" style="fill:#2a2a2a;stroke:#2a2a2a;stroke-width:0.2">-25</text>
<text transform="translate(177.4,183.1) rotate(-90)" text-anchor="middle" class="reg" font-size="7.5" style="fill:#2a2a2a;stroke:#2a2a2a;stroke-width:0.15">Current (A g<tspan dy="-3.0" font-size="4.5">-1</tspan><tspan dy="3.0">)</tspan></text>
<text x="250" y="242.6" text-anchor="middle" class="reg" font-size="7.5" style="fill:#2a2a2a;stroke:#2a2a2a;stroke-width:0.15">Potential (V)</text>
<text x="310.3" y="226" text-anchor="end" class="reg" font-size="7.4" style="fill:#1a1a1a;stroke:#1a1a1a;stroke-width:0.1">5 mV s<tspan dy="-3.0" font-size="4.4">-1</tspan></text>
<path d="M300.2 166.2 298.2 166.2 296.2 166.2 294.1 166.3 291.9 166.3 289.8 166.3 287.5 166.3 285.3 166.3 283.0 166.4 280.8 166.4 278.5 166.4 276.2 166.4 273.9 166.5 271.6 166.5 269.4 166.5 267.2 166.5 265.0 166.5 262.9 166.6 260.8 166.6 258.7 166.6 256.7 166.6 254.8 166.7 253.0 166.7 251.2 166.7 249.5 166.7 248.0 166.7 246.5 166.7 245.1 166.8 243.9 166.8 242.7 166.8 241.7 166.8 240.1 166.8 238.9 166.8 237.9 166.8 236.9 166.8 235.7 166.9 234.4 167.0 233.0 167.0 231.6 167.1 230.2 167.2 228.8 167.4 227.5 167.6 226.4 168.0 225.3 168.6 224.3 169.3 223.5 170.1 222.7 171.2 222.2 172.1 221.8 173.2 221.4 174.5 221.1 175.8 220.9 177.2 220.6 178.7 220.4 180.2 220.1 181.7 219.9 183.3 219.7 184.6 219.5 186.0 219.4 187.4 219.3 188.9 219.1 190.4 219.0 191.9 218.9 193.5 218.8 195.1 218.7 196.7 218.6 198.2 218.5 199.8 218.4 201.3 218.3 202.8 218.1 204.2 218.0 205.6 217.8 207.2 217.6 208.9 217.4 210.7 217.2 212.5 217.0 214.3 216.8 215.9 216.6 217.4 216.4 218.7 216.2 219.6 216.0 220.3 215.8 220.5 215.5 220.1 215.3 219.2 215.0 217.8 214.8 216.2 214.5 214.5 214.3 213.0 214.1 211.7 213.9 210.4 213.7 209.0 213.5 207.6 213.3 206.1 213.1 204.6 212.9 203.1 212.7 201.5 212.5 200.0 212.3 198.7 212.1 197.3 211.9 195.8 211.7 194.4 211.5 192.9 211.3 191.4 211.1 189.9 210.9 188.5 210.6 187.1 210.3 185.7 210.0 184.5 209.7 183.3 209.3 181.9 208.8 180.5 208.4 179.2 207.9 178.0 207.3 176.9 206.7 175.9 206.0 175.0 205.0 174.2 203.9 173.6 202.7 173.1 201.6 172.6 200.4 172.1" stroke="#000" stroke-width="1.3" fill="none" stroke-linejoin="round" stroke-linecap="round" />
<path d="M200.4 172.1 201.8 171.9 203.2 171.8 204.6 171.6 206.1 171.5 207.5 171.3 208.9 171.1 210.3 171.0 211.8 170.8 213.2 170.6 214.6 170.5 215.9 170.3 217.3 170.1 218.7 170.0 220.0 169.8 221.5 169.6 223.1 169.4 224.7 169.2 226.3 169.0 227.8 168.7 229.4 168.5 230.8 168.3 232.2 168.1 233.5 167.9 234.7 167.7 235.7 167.5 237.3 167.3 238.5 167.1 239.7 166.6 240.6 165.9 241.5 165.1 242.3 164.1 243.0 163.0 243.6 161.9 244.1 160.6 244.6 159.1 245.1 157.7 245.5 156.3 246.0 155.0 246.5 153.7 246.9 152.2 247.4 150.9 247.9 149.9 248.4 149.4 249.2 149.8 250.1 150.9 251.0 152.0 251.7 152.9 252.3 154.0 253.1 155.0 254.0 156.0 255.0 156.8 256.2 157.5 257.4 158.2 258.8 158.8 260.4 159.4 262.0 160.0 263.2 160.3 264.4 160.7 265.8 161.0 267.2 161.2 268.7 161.5 270.2 161.7 271.8 161.9 273.3 162.2 274.9 162.4 276.5 162.6 278.1 162.7 279.7 162.9 281.2 163.1 282.6 163.3 284.1 163.5 285.6 163.7 287.1 163.9 288.6 164.0 290.0 164.2 291.5 164.3 292.9 164.5 294.4 164.6 295.8 164.8 297.3 164.9 298.7 165.0 300.2 165.2" stroke="#000" stroke-width="1.3" fill="none" stroke-linejoin="round" stroke-linecap="round" />
<rect x="529" y="141.1" width="119.80" height="88.20" fill="none" stroke="#777" stroke-width="0.9"/>
<path d="M539.50 229.3v2.2M559.28 229.3v2.2M579.06 229.3v2.2M598.84 229.3v2.2M618.62 229.3v2.2M638.40 229.3v2.2M529.61 229.3v1.3M549.39 229.3v1.3M569.17 229.3v1.3M588.95 229.3v1.3M608.73 229.3v1.3M628.51 229.3v1.3M648.29 229.3v1.3M529 149.10h-2.2M529 169.00h-2.2M529 188.90h-2.2M529 208.80h-2.2M529 228.70h-2.2M529 159.05h-1.3M529 178.95h-1.3M529 198.85h-1.3M529 218.75h-1.3" stroke="#666" stroke-width="0.8" fill="none"/>
<text x="539.50" y="235.90" text-anchor="middle" class="reg" font-size="5.4" style="fill:#2a2a2a;stroke:#2a2a2a;stroke-width:0.2">-1.0</text>
<text x="559.28" y="235.90" text-anchor="middle" class="reg" font-size="5.4" style="fill:#2a2a2a;stroke:#2a2a2a;stroke-width:0.2">-0.8</text>
<text x="579.06" y="235.90" text-anchor="middle" class="reg" font-size="5.4" style="fill:#2a2a2a;stroke:#2a2a2a;stroke-width:0.2">-0.6</text>
<text x="598.84" y="235.90" text-anchor="middle" class="reg" font-size="5.4" style="fill:#2a2a2a;stroke:#2a2a2a;stroke-width:0.2">-0.4</text>
<text x="618.62" y="235.90" text-anchor="middle" class="reg" font-size="5.4" style="fill:#2a2a2a;stroke:#2a2a2a;stroke-width:0.2">-0.2</text>
<text x="638.40" y="235.90" text-anchor="middle" class="reg" font-size="5.4" style="fill:#2a2a2a;stroke:#2a2a2a;stroke-width:0.2">0.0</text>
<text x="526.80" y="151.04" text-anchor="end" class="reg" font-size="5.4" style="fill:#2a2a2a;stroke:#2a2a2a;stroke-width:0.2">10</text>
<text x="526.80" y="170.94" text-anchor="end" class="reg" font-size="5.4" style="fill:#2a2a2a;stroke:#2a2a2a;stroke-width:0.2">0</text>
<text x="526.80" y="190.84" text-anchor="end" class="reg" font-size="5.4" style="fill:#2a2a2a;stroke:#2a2a2a;stroke-width:0.2">-10</text>
<text x="526.80" y="210.74" text-anchor="end" class="reg" font-size="5.4" style="fill:#2a2a2a;stroke:#2a2a2a;stroke-width:0.2">-20</text>
<text x="526.80" y="230.64" text-anchor="end" class="reg" font-size="5.4" style="fill:#2a2a2a;stroke:#2a2a2a;stroke-width:0.2">-30</text>
<text transform="translate(515.5,184) rotate(-90)" text-anchor="middle" class="reg" font-size="6.3" style="fill:#2a2a2a;stroke:#2a2a2a;stroke-width:0.15">Current (A g<tspan dy="-2.5" font-size="3.8">-1</tspan><tspan dy="2.5">)</tspan></text>
<text x="587.7" y="243.3" text-anchor="middle" class="reg" font-size="6.3" style="fill:#2a2a2a;stroke:#2a2a2a;stroke-width:0.15">Potential (V)</text>
<text x="649" y="226.8" text-anchor="end" class="reg" font-size="7.1" style="fill:#1a1a1a;stroke:#1a1a1a;stroke-width:0.1">5 mV s<tspan dy="-2.8" font-size="4.3">-1</tspan></text>
<path d="M639.0 168.3 637.0 168.3 634.9 168.4 632.8 168.4 630.7 168.5 628.5 168.5 626.3 168.6 624.1 168.6 621.9 168.7 619.7 168.7 617.5 168.8 615.2 168.9 613.0 168.9 610.8 169.0 608.6 169.0 606.4 169.1 604.3 169.1 602.1 169.2 600.0 169.2 598.0 169.3 595.9 169.3 594.0 169.3 592.0 169.4 590.2 169.4 588.4 169.5 586.6 169.5 584.9 169.5 583.3 169.5 581.8 169.6 580.4 169.6 579.0 169.6 577.1 169.6 575.3 169.5 573.6 169.3 572.0 169.2 570.5 169.0 569.1 168.9 567.9 168.9 566.7 169.0 565.6 169.2 564.7 169.6 563.7 170.4 562.9 171.4 562.4 172.6 561.9 173.9 561.4 175.2 561.0 176.3 560.6 177.5 560.3 178.7 560.0 179.9 559.7 181.3 559.5 182.6 559.2 184.1 559.0 185.4 558.8 186.7 558.6 188.1 558.4 189.6 558.2 191.1 558.0 192.6 557.8 194.2 557.6 195.8 557.4 197.3 557.3 198.9 557.1 200.4 556.9 201.9 556.7 203.4 556.5 205.2 556.3 207.0 556.1 208.9 556.0 210.8 555.8 212.6 555.6 214.3 555.4 215.8 555.2 217.1 555.0 218.1 554.9 218.8 554.7 219.0 554.5 218.7 554.3 217.9 554.1 216.7 554.0 215.2 553.8 213.5 553.6 211.6 553.4 209.8 553.3 208.0 553.1 206.4 552.9 205.0 552.8 203.6 552.7 202.2 552.5 200.7 552.4 199.3 552.2 197.8 552.1 196.3 551.9 194.9 551.8 193.5 551.6 192.1 551.4 190.8 551.2 189.3 550.9 187.7 550.7 186.2 550.5 184.8 550.2 183.3 549.9 182.0 549.5 180.7 549.1 179.6 548.4 178.1 547.7 176.8 546.9 175.6 545.8 174.7 544.7 174.2 543.4 173.9 541.9 173.7 540.5 173.6 539.1 173.4" stroke="#000" stroke-width="1.3" fill="none" stroke-linejoin="round" stroke-linecap="round" />
<path d="M539.1 173.4 540.5 173.2 541.9 173.1 543.3 172.9 544.7 172.8 546.1 172.6 547.5 172.4 548.9 172.3 550.3 172.1 551.7 172.0 553.1 171.8 554.5 171.6 555.9 171.5 557.3 171.3 558.6 171.2 560.0 171.0 561.5 170.9 563.1 170.8 564.8 170.7 566.5 170.7 568.1 170.6 569.8 170.6 571.4 170.5 572.9 170.4 574.4 170.2 575.8 170.0 577.1 169.7 578.2 169.3 579.2 168.8 580.3 167.9 581.2 166.9 581.9 165.7 582.5 164.5 583.1 163.1 583.7 161.8 584.2 160.4 584.6 158.8 585.0 157.0 585.4 155.2 585.7 153.5 586.1 152.2 586.6 151.2 587.1 150.8 587.7 151.1 588.4 152.1 589.1 153.5 589.9 155.1 590.7 156.8 591.6 158.3 592.6 159.5 593.7 160.3 594.8 161.0 596.0 161.7 597.2 162.2 598.6 162.7 600.0 163.2 601.6 163.6 602.8 163.9 604.1 164.2 605.5 164.4 606.9 164.6 608.4 164.8 610.0 165.0 611.6 165.1 613.2 165.3 614.8 165.4 616.4 165.5 618.0 165.7 619.5 165.8 621.1 165.9 622.5 166.1 623.9 166.2 625.4 166.4 626.8 166.5 628.2 166.7 629.6 166.8 631.0 167.0 632.3 167.1 633.6 167.2 635.0 167.4 636.3 167.5 637.6 167.7 639.0 167.8" stroke="#000" stroke-width="1.3" fill="none" stroke-linejoin="round" stroke-linecap="round" />
<rect x="871.2" y="140" width="120.10" height="87.70" fill="none" stroke="#777" stroke-width="0.9"/>
<path d="M882.00 227.7v2.2M901.80 227.7v2.2M921.60 227.7v2.2M941.40 227.7v2.2M961.20 227.7v2.2M981.00 227.7v2.2M872.10 227.7v1.3M891.90 227.7v1.3M911.70 227.7v1.3M931.50 227.7v1.3M951.30 227.7v1.3M971.10 227.7v1.3M990.90 227.7v1.3M871.2 140.00h-2.2M871.2 153.50h-2.2M871.2 167.00h-2.2M871.2 180.50h-2.2M871.2 194.00h-2.2M871.2 207.50h-2.2M871.2 221.00h-2.2M871.2 146.75h-1.3M871.2 160.25h-1.3M871.2 173.75h-1.3M871.2 187.25h-1.3M871.2 200.75h-1.3M871.2 214.25h-1.3M871.2 227.75h-1.3" stroke="#666" stroke-width="0.8" fill="none"/>
<text x="882.00" y="234.50" text-anchor="middle" class="reg" font-size="5.6" style="fill:#2a2a2a;stroke:#2a2a2a;stroke-width:0.2">-1.0</text>
<text x="901.80" y="234.50" text-anchor="middle" class="reg" font-size="5.6" style="fill:#2a2a2a;stroke:#2a2a2a;stroke-width:0.2">-0.8</text>
<text x="921.60" y="234.50" text-anchor="middle" class="reg" font-size="5.6" style="fill:#2a2a2a;stroke:#2a2a2a;stroke-width:0.2">-0.6</text>
<text x="941.40" y="234.50" text-anchor="middle" class="reg" font-size="5.6" style="fill:#2a2a2a;stroke:#2a2a2a;stroke-width:0.2">-0.4</text>
<text x="961.20" y="234.50" text-anchor="middle" class="reg" font-size="5.6" style="fill:#2a2a2a;stroke:#2a2a2a;stroke-width:0.2">-0.2</text>
<text x="981.00" y="234.50" text-anchor="middle" class="reg" font-size="5.6" style="fill:#2a2a2a;stroke:#2a2a2a;stroke-width:0.2">0.0</text>
<text x="869.00" y="142.02" text-anchor="end" class="reg" font-size="5.6" style="fill:#2a2a2a;stroke:#2a2a2a;stroke-width:0.2">20</text>
<text x="869.00" y="155.52" text-anchor="end" class="reg" font-size="5.6" style="fill:#2a2a2a;stroke:#2a2a2a;stroke-width:0.2">10</text>
<text x="869.00" y="169.02" text-anchor="end" class="reg" font-size="5.6" style="fill:#2a2a2a;stroke:#2a2a2a;stroke-width:0.2">0</text>
<text x="869.00" y="182.52" text-anchor="end" class="reg" font-size="5.6" style="fill:#2a2a2a;stroke:#2a2a2a;stroke-width:0.2">-10</text>
<text x="869.00" y="196.02" text-anchor="end" class="reg" font-size="5.6" style="fill:#2a2a2a;stroke:#2a2a2a;stroke-width:0.2">-20</text>
<text x="869.00" y="209.52" text-anchor="end" class="reg" font-size="5.6" style="fill:#2a2a2a;stroke:#2a2a2a;stroke-width:0.2">-30</text>
<text x="869.00" y="223.02" text-anchor="end" class="reg" font-size="5.6" style="fill:#2a2a2a;stroke:#2a2a2a;stroke-width:0.2">-40</text>
<text transform="translate(857.5,180.5) rotate(-90)" text-anchor="middle" class="reg" font-size="7.3" style="fill:#2a2a2a;stroke:#2a2a2a;stroke-width:0.15">Current (A g<tspan dy="-2.9" font-size="4.4">-1</tspan><tspan dy="2.9">)</tspan></text>
<text x="934.8" y="242.7" text-anchor="middle" class="reg" font-size="7.3" style="fill:#2a2a2a;stroke:#2a2a2a;stroke-width:0.15">Potential (V)</text>
<text x="991.2" y="226.2" text-anchor="end" class="reg" font-size="7.3" style="fill:#1a1a1a;stroke:#1a1a1a;stroke-width:0.1">5 mV s<tspan dy="-2.9" font-size="4.4">-1</tspan></text>
<path d="M981.0 165.7 979.0 165.7 976.9 165.8 974.8 165.8 972.6 165.8 970.4 165.9 968.2 165.9 966.0 165.9 963.8 166.0 961.5 166.0 959.3 166.1 957.1 166.1 954.8 166.1 952.6 166.2 950.4 166.2 948.2 166.2 946.0 166.3 943.8 166.3 941.7 166.3 939.6 166.4 937.6 166.4 935.6 166.4 933.6 166.5 931.7 166.5 929.9 166.6 928.1 166.6 926.4 166.6 924.8 166.7 923.2 166.7 921.7 166.8 920.3 166.8 918.5 166.8 916.7 166.8 915.0 166.8 913.4 166.7 911.9 166.7 910.5 166.7 909.1 166.7 907.9 166.8 906.7 166.9 905.7 167.2 904.7 167.5 903.4 168.2 902.3 169.1 901.5 170.1 900.7 171.3 900.2 172.4 899.8 173.6 899.4 175.0 899.2 176.4 899.0 178.0 898.7 179.6 898.5 181.3 898.3 182.5 898.2 183.8 898.1 185.2 897.9 186.7 897.8 188.2 897.7 189.7 897.6 191.3 897.5 192.9 897.5 194.4 897.4 196.0 897.3 197.6 897.2 199.2 897.1 200.7 897.0 202.2 896.9 203.6 896.8 205.2 896.6 207.0 896.5 208.9 896.4 210.9 896.2 212.8 896.1 214.6 896.0 216.3 895.8 217.9 895.7 219.1 895.6 220.1 895.4 220.8 895.3 221.0 895.2 220.8 895.1 220.1 894.9 219.1 894.8 217.8 894.7 216.3 894.6 214.6 894.5 212.8 894.4 210.9 894.2 209.1 894.1 207.4 894.0 205.9 893.9 204.5 893.8 203.0 893.6 201.5 893.5 199.9 893.4 198.4 893.3 196.9 893.1 195.3 893.0 193.8 892.9 192.3 892.7 190.8 892.6 189.4 892.4 188.0 892.2 186.5 892.1 185.0 891.9 183.5 891.8 182.0 891.6 180.6 891.4 179.2 891.2 177.8 890.9 176.6 890.6 175.5 890.2 174.6 889.5 173.5 888.7 172.6 887.9 171.9 886.9 171.3 885.8 171.0 884.5 170.9 883.3 170.9 882.0 170.8" stroke="#000" stroke-width="1.3" fill="none" stroke-linejoin="round" stroke-linecap="round" />
<path d="M882.0 170.8 883.5 170.7 885.0 170.5 886.5 170.4 888.0 170.3 889.5 170.1 891.0 170.0 892.5 169.9 894.0 169.7 895.4 169.6 896.9 169.5 898.4 169.3 899.8 169.2 901.2 169.1 902.6 168.9 904.0 168.8 905.6 168.7 907.3 168.5 909.0 168.4 910.6 168.3 912.3 168.2 913.9 168.1 915.4 167.9 916.8 167.8 918.1 167.6 919.3 167.3 920.3 167.0 921.7 166.4 922.8 165.6 923.7 164.6 924.2 163.6 924.6 162.3 924.9 160.9 925.2 159.4 925.5 158.0 925.9 156.8 926.4 155.4 926.9 154.0 927.5 152.8 928.2 152.3 928.9 152.5 929.7 153.3 930.6 154.5 931.6 155.8 932.6 157.0 933.7 157.9 934.8 158.5 935.9 159.1 937.1 159.6 938.4 160.0 939.8 160.4 941.2 160.8 942.7 161.2 943.9 161.5 945.1 161.7 946.5 161.9 947.8 162.1 949.3 162.3 950.7 162.4 952.2 162.6 953.8 162.7 955.3 162.8 956.8 163.0 958.3 163.1 959.8 163.2 961.3 163.4 962.7 163.5 964.1 163.6 965.6 163.8 967.0 163.9 968.4 164.1 969.8 164.2 971.2 164.3 972.6 164.4 974.0 164.6 975.4 164.7 976.8 164.8 978.2 164.9 979.6 165.1 981.0 165.2" stroke="#000" stroke-width="1.3" fill="none" stroke-linejoin="round" stroke-linecap="round" />
</svg></body></html>
